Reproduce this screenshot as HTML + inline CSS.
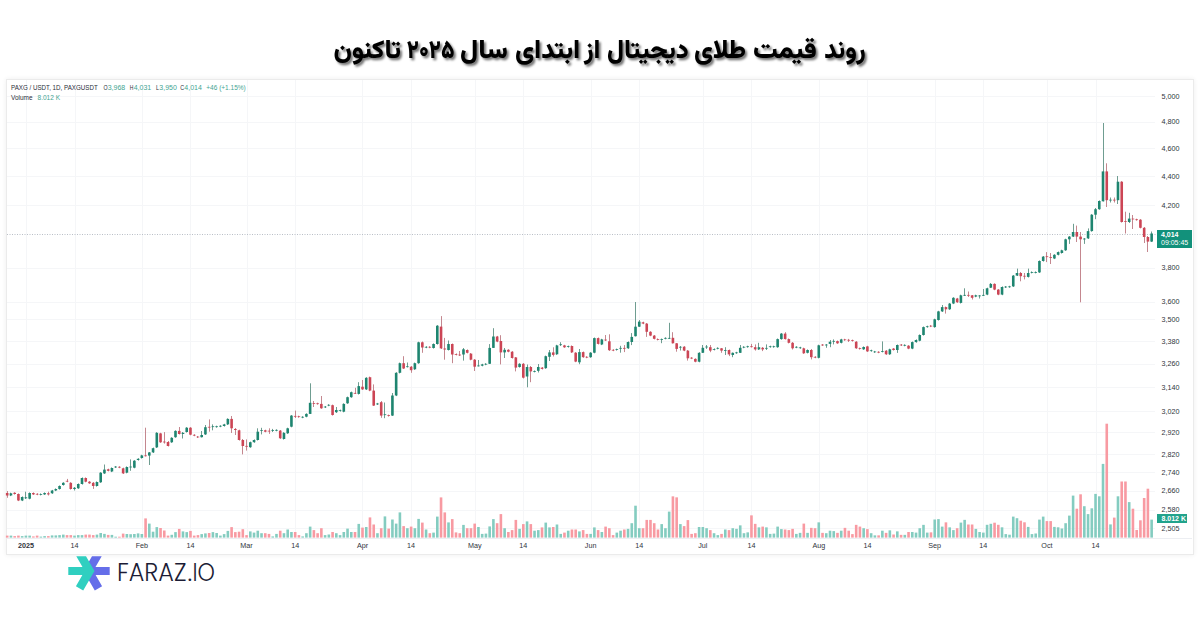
<!DOCTYPE html>
<html lang="fa"><head><meta charset="utf-8"><title>PAXG chart</title>
<style>
html,body{margin:0;padding:0;background:#fff;}
body{width:1200px;height:630px;position:relative;overflow:hidden;font-family:"Liberation Sans",Arial,sans-serif;}

.frame{position:absolute;left:6px;top:79px;width:1186px;height:474px;border:1px solid #ebebeb;box-shadow:0 0 5px rgba(0,0,0,0.07);background:#fff;}
svg.chart{position:absolute;left:0;top:0;}
svg.ttl{position:absolute;left:0;top:0;}
.hdr{position:absolute;left:11px;font-size:7px;color:#131722;white-space:pre;letter-spacing:0;}
.hdr .v{color:#22ab94;}
.tag{position:absolute;background:#12917b;color:#fff;font-size:7px;line-height:8px;}
.logo{position:absolute;left:64px;top:552px;}
.brand{position:absolute;left:110px;top:555px;}
</style></head><body>
<svg class="ttl" width="1200" height="80" viewBox="0 0 1200 80">
<defs><filter id="sh" x="-5%" y="-40%" width="110%" height="180%"><feDropShadow dx="2" dy="2.2" stdDeviation="1" flood-color="#000" flood-opacity="0.55"/></filter></defs>
<g font-family="Vazirmatn, 'Noto Sans Arabic', 'DejaVu Sans', sans-serif" font-weight="900" font-size="25.5" fill="#000" filter="url(#sh)" text-anchor="middle" direction="rtl" lengthAdjust="spacingAndGlyphs">
<text x="845.00" y="58" textLength="41.3" lengthAdjust="spacingAndGlyphs">روند</text>
<text x="784.90" y="58" textLength="63.9" lengthAdjust="spacingAndGlyphs">قیمت</text>
<text x="720.00" y="58" textLength="52.2" lengthAdjust="spacingAndGlyphs">طلای</text>
<text x="647.80" y="58" textLength="81.6" lengthAdjust="spacingAndGlyphs">دیجیتال</text>
<text x="592.25" y="58" textLength="16.1" lengthAdjust="spacingAndGlyphs">از</text>
<text x="547.55" y="58" textLength="65.1" lengthAdjust="spacingAndGlyphs">ابتدای</text>
<text x="483.90" y="58" textLength="47.9" lengthAdjust="spacingAndGlyphs">سال</text>
<text x="430.65" y="58" textLength="47.6" lengthAdjust="spacingAndGlyphs">۲۰۲۵</text>
<text x="367.20" y="58" textLength="67.5" lengthAdjust="spacingAndGlyphs">تاکنون</text>
</g>
</svg>
<div class="frame"></div>
<svg class="chart" width="1200" height="630" viewBox="0 0 1200 630">
<line x1="26.5" y1="80" x2="26.5" y2="538" stroke="#f5f6f8" stroke-width="1"/>
<line x1="75.5" y1="80" x2="75.5" y2="538" stroke="#f5f6f8" stroke-width="1"/>
<line x1="142.5" y1="80" x2="142.5" y2="538" stroke="#f5f6f8" stroke-width="1"/>
<line x1="190.5" y1="80" x2="190.5" y2="538" stroke="#f5f6f8" stroke-width="1"/>
<line x1="247.5" y1="80" x2="247.5" y2="538" stroke="#f5f6f8" stroke-width="1"/>
<line x1="295.5" y1="80" x2="295.5" y2="538" stroke="#f5f6f8" stroke-width="1"/>
<line x1="362.5" y1="80" x2="362.5" y2="538" stroke="#f5f6f8" stroke-width="1"/>
<line x1="411.5" y1="80" x2="411.5" y2="538" stroke="#f5f6f8" stroke-width="1"/>
<line x1="475.5" y1="80" x2="475.5" y2="538" stroke="#f5f6f8" stroke-width="1"/>
<line x1="523.5" y1="80" x2="523.5" y2="538" stroke="#f5f6f8" stroke-width="1"/>
<line x1="591.5" y1="80" x2="591.5" y2="538" stroke="#f5f6f8" stroke-width="1"/>
<line x1="639.5" y1="80" x2="639.5" y2="538" stroke="#f5f6f8" stroke-width="1"/>
<line x1="703.5" y1="80" x2="703.5" y2="538" stroke="#f5f6f8" stroke-width="1"/>
<line x1="751.5" y1="80" x2="751.5" y2="538" stroke="#f5f6f8" stroke-width="1"/>
<line x1="819.5" y1="80" x2="819.5" y2="538" stroke="#f5f6f8" stroke-width="1"/>
<line x1="867.5" y1="80" x2="867.5" y2="538" stroke="#f5f6f8" stroke-width="1"/>
<line x1="935.5" y1="80" x2="935.5" y2="538" stroke="#f5f6f8" stroke-width="1"/>
<line x1="983.5" y1="80" x2="983.5" y2="538" stroke="#f5f6f8" stroke-width="1"/>
<line x1="1047.5" y1="80" x2="1047.5" y2="538" stroke="#f5f6f8" stroke-width="1"/>
<line x1="1096.5" y1="80" x2="1096.5" y2="538" stroke="#f5f6f8" stroke-width="1"/>
<line x1="7" y1="96.5" x2="1155" y2="96.5" stroke="#f5f6f8" stroke-width="1"/>
<line x1="7" y1="122.5" x2="1155" y2="122.5" stroke="#f5f6f8" stroke-width="1"/>
<line x1="7" y1="148.5" x2="1155" y2="148.5" stroke="#f5f6f8" stroke-width="1"/>
<line x1="7" y1="176.5" x2="1155" y2="176.5" stroke="#f5f6f8" stroke-width="1"/>
<line x1="7" y1="205.5" x2="1155" y2="205.5" stroke="#f5f6f8" stroke-width="1"/>
<line x1="7" y1="268.5" x2="1155" y2="268.5" stroke="#f5f6f8" stroke-width="1"/>
<line x1="7" y1="302.5" x2="1155" y2="302.5" stroke="#f5f6f8" stroke-width="1"/>
<line x1="7" y1="319.5" x2="1155" y2="319.5" stroke="#f5f6f8" stroke-width="1"/>
<line x1="7" y1="341.5" x2="1155" y2="341.5" stroke="#f5f6f8" stroke-width="1"/>
<line x1="7" y1="364.5" x2="1155" y2="364.5" stroke="#f5f6f8" stroke-width="1"/>
<line x1="7" y1="387.5" x2="1155" y2="387.5" stroke="#f5f6f8" stroke-width="1"/>
<line x1="7" y1="411.5" x2="1155" y2="411.5" stroke="#f5f6f8" stroke-width="1"/>
<line x1="7" y1="432.5" x2="1155" y2="432.5" stroke="#f5f6f8" stroke-width="1"/>
<line x1="7" y1="454.5" x2="1155" y2="454.5" stroke="#f5f6f8" stroke-width="1"/>
<line x1="7" y1="472.5" x2="1155" y2="472.5" stroke="#f5f6f8" stroke-width="1"/>
<line x1="7" y1="491.5" x2="1155" y2="491.5" stroke="#f5f6f8" stroke-width="1"/>
<line x1="7" y1="510.5" x2="1155" y2="510.5" stroke="#f5f6f8" stroke-width="1"/>
<line x1="7" y1="528.5" x2="1155" y2="528.5" stroke="#f5f6f8" stroke-width="1"/>
<line x1="7" y1="538.5" x2="1192" y2="538.5" stroke="#eceef2" stroke-width="1"/>
<rect x="5.90" y="535.60" width="2.6" height="2.00" fill="#f89aa2"/>
<rect x="9.64" y="535.60" width="2.6" height="2.00" fill="#84ccc0"/>
<rect x="13.38" y="536.10" width="2.6" height="1.50" fill="#f89aa2"/>
<rect x="17.12" y="535.60" width="2.6" height="2.00" fill="#f89aa2"/>
<rect x="20.86" y="536.10" width="2.6" height="1.50" fill="#84ccc0"/>
<rect x="24.60" y="535.60" width="2.6" height="2.00" fill="#84ccc0"/>
<rect x="28.34" y="535.60" width="2.6" height="2.00" fill="#84ccc0"/>
<rect x="32.08" y="536.40" width="2.6" height="1.20" fill="#f89aa2"/>
<rect x="35.82" y="535.60" width="2.6" height="2.00" fill="#f89aa2"/>
<rect x="39.56" y="536.60" width="2.6" height="1.00" fill="#84ccc0"/>
<rect x="43.30" y="536.10" width="2.6" height="1.50" fill="#84ccc0"/>
<rect x="47.04" y="536.10" width="2.6" height="1.50" fill="#f89aa2"/>
<rect x="50.78" y="535.40" width="2.6" height="2.20" fill="#84ccc0"/>
<rect x="54.52" y="535.40" width="2.6" height="2.20" fill="#84ccc0"/>
<rect x="58.26" y="535.10" width="2.6" height="2.50" fill="#84ccc0"/>
<rect x="62.00" y="534.60" width="2.6" height="3.00" fill="#84ccc0"/>
<rect x="65.74" y="535.10" width="2.6" height="2.50" fill="#f89aa2"/>
<rect x="69.48" y="535.10" width="2.6" height="2.50" fill="#f89aa2"/>
<rect x="73.22" y="535.60" width="2.6" height="2.00" fill="#84ccc0"/>
<rect x="76.96" y="535.10" width="2.6" height="2.50" fill="#84ccc0"/>
<rect x="80.70" y="535.10" width="2.6" height="2.50" fill="#84ccc0"/>
<rect x="84.44" y="534.60" width="2.6" height="3.00" fill="#f89aa2"/>
<rect x="88.18" y="534.60" width="2.6" height="3.00" fill="#f89aa2"/>
<rect x="91.92" y="535.10" width="2.6" height="2.50" fill="#f89aa2"/>
<rect x="95.66" y="534.60" width="2.6" height="3.00" fill="#84ccc0"/>
<rect x="99.40" y="533.00" width="2.6" height="4.60" fill="#84ccc0"/>
<rect x="103.14" y="533.90" width="2.6" height="3.70" fill="#84ccc0"/>
<rect x="106.88" y="534.90" width="2.6" height="2.70" fill="#f89aa2"/>
<rect x="110.62" y="534.90" width="2.6" height="2.70" fill="#84ccc0"/>
<rect x="114.36" y="536.70" width="2.6" height="0.90" fill="#84ccc0"/>
<rect x="118.10" y="536.70" width="2.6" height="0.90" fill="#f89aa2"/>
<rect x="121.84" y="533.60" width="2.6" height="4.00" fill="#f89aa2"/>
<rect x="125.58" y="534.00" width="2.6" height="3.60" fill="#84ccc0"/>
<rect x="129.32" y="534.20" width="2.6" height="3.40" fill="#84ccc0"/>
<rect x="133.06" y="534.00" width="2.6" height="3.60" fill="#84ccc0"/>
<rect x="136.80" y="533.40" width="2.6" height="4.20" fill="#84ccc0"/>
<rect x="140.54" y="534.00" width="2.6" height="3.60" fill="#84ccc0"/>
<rect x="144.28" y="518.40" width="2.6" height="19.20" fill="#f89aa2"/>
<rect x="148.02" y="523.60" width="2.6" height="14.00" fill="#84ccc0"/>
<rect x="151.76" y="531.70" width="2.6" height="5.90" fill="#84ccc0"/>
<rect x="155.50" y="527.10" width="2.6" height="10.50" fill="#84ccc0"/>
<rect x="159.24" y="528.00" width="2.6" height="9.60" fill="#f89aa2"/>
<rect x="162.98" y="530.50" width="2.6" height="7.10" fill="#f89aa2"/>
<rect x="166.72" y="535.60" width="2.6" height="2.00" fill="#f89aa2"/>
<rect x="170.46" y="534.80" width="2.6" height="2.80" fill="#84ccc0"/>
<rect x="174.20" y="532.10" width="2.6" height="5.50" fill="#84ccc0"/>
<rect x="177.94" y="528.90" width="2.6" height="8.70" fill="#f89aa2"/>
<rect x="181.68" y="531.40" width="2.6" height="6.20" fill="#84ccc0"/>
<rect x="185.42" y="532.10" width="2.6" height="5.50" fill="#84ccc0"/>
<rect x="189.16" y="530.90" width="2.6" height="6.70" fill="#f89aa2"/>
<rect x="192.90" y="535.60" width="2.6" height="2.00" fill="#f89aa2"/>
<rect x="196.64" y="535.10" width="2.6" height="2.50" fill="#f89aa2"/>
<rect x="200.38" y="534.10" width="2.6" height="3.50" fill="#84ccc0"/>
<rect x="204.12" y="533.40" width="2.6" height="4.20" fill="#84ccc0"/>
<rect x="207.86" y="533.00" width="2.6" height="4.60" fill="#f89aa2"/>
<rect x="211.60" y="532.10" width="2.6" height="5.50" fill="#84ccc0"/>
<rect x="215.34" y="533.00" width="2.6" height="4.60" fill="#84ccc0"/>
<rect x="219.08" y="535.60" width="2.6" height="2.00" fill="#84ccc0"/>
<rect x="222.82" y="534.10" width="2.6" height="3.50" fill="#84ccc0"/>
<rect x="226.56" y="530.90" width="2.6" height="6.70" fill="#84ccc0"/>
<rect x="230.30" y="527.10" width="2.6" height="10.50" fill="#f89aa2"/>
<rect x="234.04" y="532.10" width="2.6" height="5.50" fill="#f89aa2"/>
<rect x="237.78" y="531.70" width="2.6" height="5.90" fill="#f89aa2"/>
<rect x="241.52" y="529.20" width="2.6" height="8.40" fill="#f89aa2"/>
<rect x="245.26" y="535.10" width="2.6" height="2.50" fill="#f89aa2"/>
<rect x="249.00" y="531.40" width="2.6" height="6.20" fill="#84ccc0"/>
<rect x="252.74" y="532.60" width="2.6" height="5.00" fill="#84ccc0"/>
<rect x="256.48" y="530.70" width="2.6" height="6.90" fill="#84ccc0"/>
<rect x="260.22" y="533.20" width="2.6" height="4.40" fill="#84ccc0"/>
<rect x="263.96" y="533.20" width="2.6" height="4.40" fill="#f89aa2"/>
<rect x="267.70" y="533.90" width="2.6" height="3.70" fill="#f89aa2"/>
<rect x="271.44" y="536.40" width="2.6" height="1.20" fill="#84ccc0"/>
<rect x="275.18" y="533.90" width="2.6" height="3.70" fill="#84ccc0"/>
<rect x="278.92" y="530.70" width="2.6" height="6.90" fill="#f89aa2"/>
<rect x="282.66" y="533.20" width="2.6" height="4.40" fill="#84ccc0"/>
<rect x="286.40" y="529.50" width="2.6" height="8.10" fill="#84ccc0"/>
<rect x="290.14" y="532.00" width="2.6" height="5.60" fill="#84ccc0"/>
<rect x="293.88" y="532.00" width="2.6" height="5.60" fill="#f89aa2"/>
<rect x="297.62" y="535.10" width="2.6" height="2.50" fill="#f89aa2"/>
<rect x="301.36" y="536.40" width="2.6" height="1.20" fill="#84ccc0"/>
<rect x="305.10" y="533.20" width="2.6" height="4.40" fill="#84ccc0"/>
<rect x="308.84" y="526.60" width="2.6" height="11.00" fill="#84ccc0"/>
<rect x="312.58" y="530.10" width="2.6" height="7.50" fill="#f89aa2"/>
<rect x="316.32" y="533.20" width="2.6" height="4.40" fill="#f89aa2"/>
<rect x="320.06" y="528.20" width="2.6" height="9.40" fill="#f89aa2"/>
<rect x="323.80" y="535.10" width="2.6" height="2.50" fill="#84ccc0"/>
<rect x="327.54" y="534.50" width="2.6" height="3.10" fill="#84ccc0"/>
<rect x="331.28" y="532.00" width="2.6" height="5.60" fill="#f89aa2"/>
<rect x="335.02" y="533.20" width="2.6" height="4.40" fill="#84ccc0"/>
<rect x="338.76" y="535.10" width="2.6" height="2.50" fill="#84ccc0"/>
<rect x="342.50" y="532.00" width="2.6" height="5.60" fill="#84ccc0"/>
<rect x="346.24" y="528.60" width="2.6" height="9.00" fill="#84ccc0"/>
<rect x="349.98" y="532.00" width="2.6" height="5.60" fill="#84ccc0"/>
<rect x="353.72" y="532.00" width="2.6" height="5.60" fill="#f89aa2"/>
<rect x="357.46" y="523.90" width="2.6" height="13.70" fill="#84ccc0"/>
<rect x="361.20" y="527.60" width="2.6" height="10.00" fill="#f89aa2"/>
<rect x="364.94" y="527.00" width="2.6" height="10.60" fill="#84ccc0"/>
<rect x="368.68" y="517.40" width="2.6" height="20.20" fill="#f89aa2"/>
<rect x="372.42" y="524.50" width="2.6" height="13.10" fill="#f89aa2"/>
<rect x="376.16" y="533.20" width="2.6" height="4.40" fill="#84ccc0"/>
<rect x="379.90" y="528.20" width="2.6" height="9.40" fill="#f89aa2"/>
<rect x="383.64" y="516.40" width="2.6" height="21.20" fill="#84ccc0"/>
<rect x="387.38" y="528.60" width="2.6" height="9.00" fill="#f89aa2"/>
<rect x="391.12" y="519.50" width="2.6" height="18.10" fill="#84ccc0"/>
<rect x="394.86" y="523.60" width="2.6" height="14.00" fill="#84ccc0"/>
<rect x="398.60" y="512.40" width="2.6" height="25.20" fill="#84ccc0"/>
<rect x="402.34" y="526.10" width="2.6" height="11.50" fill="#f89aa2"/>
<rect x="406.08" y="528.20" width="2.6" height="9.40" fill="#84ccc0"/>
<rect x="409.82" y="526.60" width="2.6" height="11.00" fill="#f89aa2"/>
<rect x="413.56" y="528.20" width="2.6" height="9.40" fill="#84ccc0"/>
<rect x="417.30" y="518.90" width="2.6" height="18.70" fill="#84ccc0"/>
<rect x="421.04" y="522.60" width="2.6" height="15.00" fill="#f89aa2"/>
<rect x="424.78" y="529.50" width="2.6" height="8.10" fill="#84ccc0"/>
<rect x="428.52" y="533.20" width="2.6" height="4.40" fill="#f89aa2"/>
<rect x="432.26" y="532.60" width="2.6" height="5.00" fill="#84ccc0"/>
<rect x="436.00" y="516.60" width="2.6" height="21.00" fill="#84ccc0"/>
<rect x="439.74" y="497.40" width="2.6" height="40.20" fill="#f89aa2"/>
<rect x="443.48" y="512.40" width="2.6" height="25.20" fill="#f89aa2"/>
<rect x="447.22" y="522.40" width="2.6" height="15.20" fill="#84ccc0"/>
<rect x="450.96" y="519.10" width="2.6" height="18.50" fill="#f89aa2"/>
<rect x="454.70" y="532.40" width="2.6" height="5.20" fill="#f89aa2"/>
<rect x="458.44" y="533.20" width="2.6" height="4.40" fill="#f89aa2"/>
<rect x="462.18" y="524.90" width="2.6" height="12.70" fill="#84ccc0"/>
<rect x="465.92" y="528.20" width="2.6" height="9.40" fill="#f89aa2"/>
<rect x="469.66" y="528.20" width="2.6" height="9.40" fill="#f89aa2"/>
<rect x="473.40" y="523.60" width="2.6" height="14.00" fill="#f89aa2"/>
<rect x="477.14" y="527.00" width="2.6" height="10.60" fill="#84ccc0"/>
<rect x="480.88" y="533.90" width="2.6" height="3.70" fill="#84ccc0"/>
<rect x="484.62" y="533.60" width="2.6" height="4.00" fill="#84ccc0"/>
<rect x="488.36" y="526.40" width="2.6" height="11.20" fill="#84ccc0"/>
<rect x="492.10" y="519.10" width="2.6" height="18.50" fill="#84ccc0"/>
<rect x="495.84" y="523.20" width="2.6" height="14.40" fill="#f89aa2"/>
<rect x="499.58" y="514.10" width="2.6" height="23.50" fill="#f89aa2"/>
<rect x="503.32" y="528.20" width="2.6" height="9.40" fill="#84ccc0"/>
<rect x="507.06" y="532.00" width="2.6" height="5.60" fill="#f89aa2"/>
<rect x="510.80" y="530.10" width="2.6" height="7.50" fill="#f89aa2"/>
<rect x="514.54" y="519.90" width="2.6" height="17.70" fill="#f89aa2"/>
<rect x="518.28" y="528.85" width="2.6" height="8.75" fill="#84ccc0"/>
<rect x="522.02" y="524.10" width="2.6" height="13.50" fill="#f89aa2"/>
<rect x="525.76" y="521.40" width="2.6" height="16.20" fill="#84ccc0"/>
<rect x="529.50" y="524.10" width="2.6" height="13.50" fill="#f89aa2"/>
<rect x="533.24" y="530.70" width="2.6" height="6.90" fill="#84ccc0"/>
<rect x="536.98" y="530.10" width="2.6" height="7.50" fill="#84ccc0"/>
<rect x="540.72" y="527.40" width="2.6" height="10.20" fill="#f89aa2"/>
<rect x="544.46" y="522.60" width="2.6" height="15.00" fill="#84ccc0"/>
<rect x="548.20" y="527.40" width="2.6" height="10.20" fill="#84ccc0"/>
<rect x="551.94" y="527.00" width="2.6" height="10.60" fill="#f89aa2"/>
<rect x="555.68" y="524.50" width="2.6" height="13.10" fill="#84ccc0"/>
<rect x="559.42" y="533.90" width="2.6" height="3.70" fill="#84ccc0"/>
<rect x="563.16" y="532.60" width="2.6" height="5.00" fill="#f89aa2"/>
<rect x="566.90" y="530.70" width="2.6" height="6.90" fill="#84ccc0"/>
<rect x="570.64" y="529.50" width="2.6" height="8.10" fill="#f89aa2"/>
<rect x="574.38" y="529.50" width="2.6" height="8.10" fill="#f89aa2"/>
<rect x="578.12" y="531.40" width="2.6" height="6.20" fill="#84ccc0"/>
<rect x="581.86" y="530.10" width="2.6" height="7.50" fill="#f89aa2"/>
<rect x="585.60" y="533.90" width="2.6" height="3.70" fill="#f89aa2"/>
<rect x="589.34" y="533.90" width="2.6" height="3.70" fill="#84ccc0"/>
<rect x="593.08" y="527.40" width="2.6" height="10.20" fill="#84ccc0"/>
<rect x="596.82" y="530.10" width="2.6" height="7.50" fill="#f89aa2"/>
<rect x="600.56" y="532.00" width="2.6" height="5.60" fill="#84ccc0"/>
<rect x="604.30" y="526.60" width="2.6" height="11.00" fill="#f89aa2"/>
<rect x="608.04" y="528.20" width="2.6" height="9.40" fill="#f89aa2"/>
<rect x="611.78" y="535.10" width="2.6" height="2.50" fill="#f89aa2"/>
<rect x="615.52" y="532.60" width="2.6" height="5.00" fill="#84ccc0"/>
<rect x="619.26" y="530.70" width="2.6" height="6.90" fill="#84ccc0"/>
<rect x="623.00" y="529.50" width="2.6" height="8.10" fill="#f89aa2"/>
<rect x="626.74" y="528.85" width="2.6" height="8.75" fill="#84ccc0"/>
<rect x="630.48" y="523.20" width="2.6" height="14.40" fill="#84ccc0"/>
<rect x="634.22" y="505.70" width="2.6" height="31.90" fill="#84ccc0"/>
<rect x="637.96" y="528.20" width="2.6" height="9.40" fill="#84ccc0"/>
<rect x="641.70" y="528.20" width="2.6" height="9.40" fill="#f89aa2"/>
<rect x="645.44" y="519.90" width="2.6" height="17.70" fill="#f89aa2"/>
<rect x="649.18" y="519.90" width="2.6" height="17.70" fill="#f89aa2"/>
<rect x="652.92" y="523.20" width="2.6" height="14.40" fill="#f89aa2"/>
<rect x="656.66" y="529.50" width="2.6" height="8.10" fill="#f89aa2"/>
<rect x="660.40" y="524.10" width="2.6" height="13.50" fill="#84ccc0"/>
<rect x="664.14" y="528.20" width="2.6" height="9.40" fill="#84ccc0"/>
<rect x="667.88" y="511.60" width="2.6" height="26.00" fill="#84ccc0"/>
<rect x="671.62" y="496.35" width="2.6" height="41.25" fill="#f89aa2"/>
<rect x="675.36" y="497.35" width="2.6" height="40.25" fill="#f89aa2"/>
<rect x="679.10" y="524.10" width="2.6" height="13.50" fill="#84ccc0"/>
<rect x="682.84" y="526.10" width="2.6" height="11.50" fill="#f89aa2"/>
<rect x="686.58" y="520.10" width="2.6" height="17.50" fill="#f89aa2"/>
<rect x="690.32" y="533.90" width="2.6" height="3.70" fill="#f89aa2"/>
<rect x="694.06" y="533.20" width="2.6" height="4.40" fill="#f89aa2"/>
<rect x="697.80" y="527.00" width="2.6" height="10.60" fill="#84ccc0"/>
<rect x="701.54" y="527.00" width="2.6" height="10.60" fill="#84ccc0"/>
<rect x="705.28" y="528.20" width="2.6" height="9.40" fill="#84ccc0"/>
<rect x="709.02" y="530.10" width="2.6" height="7.50" fill="#f89aa2"/>
<rect x="712.76" y="533.20" width="2.6" height="4.40" fill="#84ccc0"/>
<rect x="716.50" y="535.10" width="2.6" height="2.50" fill="#84ccc0"/>
<rect x="720.24" y="533.90" width="2.6" height="3.70" fill="#f89aa2"/>
<rect x="723.98" y="529.50" width="2.6" height="8.10" fill="#84ccc0"/>
<rect x="727.72" y="530.10" width="2.6" height="7.50" fill="#f89aa2"/>
<rect x="731.46" y="528.20" width="2.6" height="9.40" fill="#84ccc0"/>
<rect x="735.20" y="528.85" width="2.6" height="8.75" fill="#84ccc0"/>
<rect x="738.94" y="525.35" width="2.6" height="12.25" fill="#84ccc0"/>
<rect x="742.68" y="533.20" width="2.6" height="4.40" fill="#84ccc0"/>
<rect x="746.42" y="532.35" width="2.6" height="5.25" fill="#84ccc0"/>
<rect x="750.16" y="515.35" width="2.6" height="22.25" fill="#f89aa2"/>
<rect x="753.90" y="523.85" width="2.6" height="13.75" fill="#f89aa2"/>
<rect x="757.64" y="527.35" width="2.6" height="10.25" fill="#84ccc0"/>
<rect x="761.38" y="526.60" width="2.6" height="11.00" fill="#f89aa2"/>
<rect x="765.12" y="527.35" width="2.6" height="10.25" fill="#84ccc0"/>
<rect x="768.86" y="533.90" width="2.6" height="3.70" fill="#84ccc0"/>
<rect x="772.60" y="533.60" width="2.6" height="4.00" fill="#84ccc0"/>
<rect x="776.34" y="526.60" width="2.6" height="11.00" fill="#84ccc0"/>
<rect x="780.08" y="529.10" width="2.6" height="8.50" fill="#84ccc0"/>
<rect x="783.82" y="529.50" width="2.6" height="8.10" fill="#f89aa2"/>
<rect x="787.56" y="530.10" width="2.6" height="7.50" fill="#f89aa2"/>
<rect x="791.30" y="528.85" width="2.6" height="8.75" fill="#f89aa2"/>
<rect x="795.04" y="533.90" width="2.6" height="3.70" fill="#84ccc0"/>
<rect x="798.78" y="532.85" width="2.6" height="4.75" fill="#84ccc0"/>
<rect x="802.52" y="523.60" width="2.6" height="14.00" fill="#f89aa2"/>
<rect x="806.26" y="532.85" width="2.6" height="4.75" fill="#84ccc0"/>
<rect x="810.00" y="527.85" width="2.6" height="9.75" fill="#f89aa2"/>
<rect x="813.74" y="528.20" width="2.6" height="9.40" fill="#f89aa2"/>
<rect x="817.48" y="522.35" width="2.6" height="15.25" fill="#84ccc0"/>
<rect x="821.22" y="532.85" width="2.6" height="4.75" fill="#f89aa2"/>
<rect x="824.96" y="533.20" width="2.6" height="4.40" fill="#84ccc0"/>
<rect x="828.70" y="530.70" width="2.6" height="6.90" fill="#84ccc0"/>
<rect x="832.44" y="531.10" width="2.6" height="6.50" fill="#84ccc0"/>
<rect x="836.18" y="532.85" width="2.6" height="4.75" fill="#f89aa2"/>
<rect x="839.92" y="530.70" width="2.6" height="6.90" fill="#84ccc0"/>
<rect x="843.66" y="527.85" width="2.6" height="9.75" fill="#f89aa2"/>
<rect x="847.40" y="530.70" width="2.6" height="6.90" fill="#f89aa2"/>
<rect x="851.14" y="534.10" width="2.6" height="3.50" fill="#f89aa2"/>
<rect x="854.88" y="524.85" width="2.6" height="12.75" fill="#f89aa2"/>
<rect x="858.62" y="526.60" width="2.6" height="11.00" fill="#f89aa2"/>
<rect x="862.36" y="528.20" width="2.6" height="9.40" fill="#84ccc0"/>
<rect x="866.10" y="529.10" width="2.6" height="8.50" fill="#f89aa2"/>
<rect x="869.84" y="533.20" width="2.6" height="4.40" fill="#84ccc0"/>
<rect x="873.58" y="535.35" width="2.6" height="2.25" fill="#84ccc0"/>
<rect x="877.32" y="535.35" width="2.6" height="2.25" fill="#f89aa2"/>
<rect x="881.06" y="530.70" width="2.6" height="6.90" fill="#84ccc0"/>
<rect x="884.80" y="532.85" width="2.6" height="4.75" fill="#f89aa2"/>
<rect x="888.54" y="530.35" width="2.6" height="7.25" fill="#84ccc0"/>
<rect x="892.28" y="534.50" width="2.6" height="3.10" fill="#f89aa2"/>
<rect x="896.02" y="531.35" width="2.6" height="6.25" fill="#84ccc0"/>
<rect x="899.76" y="534.85" width="2.6" height="2.75" fill="#f89aa2"/>
<rect x="903.50" y="534.85" width="2.6" height="2.75" fill="#84ccc0"/>
<rect x="907.24" y="532.00" width="2.6" height="5.60" fill="#f89aa2"/>
<rect x="910.98" y="532.00" width="2.6" height="5.60" fill="#84ccc0"/>
<rect x="914.72" y="532.60" width="2.6" height="5.00" fill="#84ccc0"/>
<rect x="918.46" y="528.20" width="2.6" height="9.40" fill="#84ccc0"/>
<rect x="922.20" y="524.85" width="2.6" height="12.75" fill="#84ccc0"/>
<rect x="925.94" y="532.60" width="2.6" height="5.00" fill="#84ccc0"/>
<rect x="929.68" y="532.35" width="2.6" height="5.25" fill="#f89aa2"/>
<rect x="933.42" y="519.50" width="2.6" height="18.10" fill="#84ccc0"/>
<rect x="937.16" y="519.10" width="2.6" height="18.50" fill="#84ccc0"/>
<rect x="940.90" y="526.60" width="2.6" height="11.00" fill="#84ccc0"/>
<rect x="944.64" y="522.35" width="2.6" height="15.25" fill="#f89aa2"/>
<rect x="948.38" y="527.35" width="2.6" height="10.25" fill="#84ccc0"/>
<rect x="952.12" y="530.10" width="2.6" height="7.50" fill="#84ccc0"/>
<rect x="955.86" y="528.20" width="2.6" height="9.40" fill="#f89aa2"/>
<rect x="959.60" y="522.60" width="2.6" height="15.00" fill="#84ccc0"/>
<rect x="963.34" y="519.85" width="2.6" height="17.75" fill="#84ccc0"/>
<rect x="967.08" y="524.50" width="2.6" height="13.10" fill="#f89aa2"/>
<rect x="970.82" y="524.50" width="2.6" height="13.10" fill="#f89aa2"/>
<rect x="974.56" y="528.90" width="2.6" height="8.70" fill="#84ccc0"/>
<rect x="978.30" y="532.00" width="2.6" height="5.60" fill="#84ccc0"/>
<rect x="982.04" y="532.60" width="2.6" height="5.00" fill="#84ccc0"/>
<rect x="985.78" y="524.80" width="2.6" height="12.80" fill="#84ccc0"/>
<rect x="989.52" y="523.80" width="2.6" height="13.80" fill="#84ccc0"/>
<rect x="993.26" y="522.70" width="2.6" height="14.90" fill="#f89aa2"/>
<rect x="997.00" y="524.80" width="2.6" height="12.80" fill="#f89aa2"/>
<rect x="1000.74" y="527.30" width="2.6" height="10.30" fill="#84ccc0"/>
<rect x="1004.48" y="534.10" width="2.6" height="3.50" fill="#84ccc0"/>
<rect x="1008.22" y="534.70" width="2.6" height="2.90" fill="#84ccc0"/>
<rect x="1011.96" y="516.60" width="2.6" height="21.00" fill="#84ccc0"/>
<rect x="1015.70" y="518.20" width="2.6" height="19.40" fill="#84ccc0"/>
<rect x="1019.44" y="520.70" width="2.6" height="16.90" fill="#f89aa2"/>
<rect x="1023.18" y="522.30" width="2.6" height="15.30" fill="#f89aa2"/>
<rect x="1026.92" y="526.90" width="2.6" height="10.70" fill="#84ccc0"/>
<rect x="1030.66" y="534.10" width="2.6" height="3.50" fill="#84ccc0"/>
<rect x="1034.40" y="533.50" width="2.6" height="4.10" fill="#84ccc0"/>
<rect x="1038.14" y="519.60" width="2.6" height="18.00" fill="#84ccc0"/>
<rect x="1041.88" y="516.60" width="2.6" height="21.00" fill="#84ccc0"/>
<rect x="1045.62" y="521.10" width="2.6" height="16.50" fill="#f89aa2"/>
<rect x="1049.36" y="521.10" width="2.6" height="16.50" fill="#f89aa2"/>
<rect x="1053.10" y="526.90" width="2.6" height="10.70" fill="#84ccc0"/>
<rect x="1056.84" y="527.30" width="2.6" height="10.30" fill="#84ccc0"/>
<rect x="1060.58" y="528.50" width="2.6" height="9.10" fill="#84ccc0"/>
<rect x="1064.32" y="523.20" width="2.6" height="14.40" fill="#84ccc0"/>
<rect x="1068.06" y="515.60" width="2.6" height="22.00" fill="#84ccc0"/>
<rect x="1071.80" y="495.60" width="2.6" height="42.00" fill="#84ccc0"/>
<rect x="1075.54" y="508.70" width="2.6" height="28.90" fill="#f89aa2"/>
<rect x="1079.28" y="494.30" width="2.6" height="43.30" fill="#f89aa2"/>
<rect x="1083.02" y="506.20" width="2.6" height="31.40" fill="#84ccc0"/>
<rect x="1086.76" y="514.10" width="2.6" height="23.50" fill="#84ccc0"/>
<rect x="1090.50" y="508.30" width="2.6" height="29.30" fill="#84ccc0"/>
<rect x="1094.24" y="493.90" width="2.6" height="43.70" fill="#84ccc0"/>
<rect x="1097.98" y="496.30" width="2.6" height="41.30" fill="#84ccc0"/>
<rect x="1101.72" y="463.90" width="2.6" height="73.70" fill="#84ccc0"/>
<rect x="1105.46" y="423.70" width="2.6" height="113.90" fill="#f89aa2"/>
<rect x="1109.20" y="524.40" width="2.6" height="13.20" fill="#84ccc0"/>
<rect x="1112.94" y="517.60" width="2.6" height="20.00" fill="#f89aa2"/>
<rect x="1116.68" y="496.30" width="2.6" height="41.30" fill="#84ccc0"/>
<rect x="1120.42" y="481.50" width="2.6" height="56.10" fill="#f89aa2"/>
<rect x="1124.16" y="481.50" width="2.6" height="56.10" fill="#f89aa2"/>
<rect x="1127.90" y="502.10" width="2.6" height="35.50" fill="#84ccc0"/>
<rect x="1131.64" y="508.70" width="2.6" height="28.90" fill="#f89aa2"/>
<rect x="1135.38" y="530.00" width="2.6" height="7.60" fill="#f89aa2"/>
<rect x="1139.12" y="520.30" width="2.6" height="17.30" fill="#f89aa2"/>
<rect x="1142.86" y="498.00" width="2.6" height="39.60" fill="#f89aa2"/>
<rect x="1146.60" y="488.70" width="2.6" height="48.90" fill="#f89aa2"/>
<rect x="1150.34" y="519.60" width="2.6" height="18.00" fill="#84ccc0"/>
<line x1="7" y1="234.5" x2="1157" y2="234.5" stroke="#b9bec6" stroke-width="1" stroke-dasharray="1 1.5"/>
<line x1="7.50" y1="491.00" x2="7.50" y2="497.80" stroke="#c4878f" stroke-width="1"/>
<rect x="5.90" y="493.00" width="2.6" height="2.50" fill="#cc4555"/>
<line x1="10.50" y1="492.70" x2="10.50" y2="496.10" stroke="#6f9d91" stroke-width="1"/>
<rect x="9.64" y="493.30" width="2.6" height="2.20" fill="#1e8570"/>
<line x1="14.50" y1="492.20" x2="14.50" y2="494.60" stroke="#c4878f" stroke-width="1"/>
<rect x="13.38" y="492.80" width="2.6" height="1.20" fill="#cc4555"/>
<line x1="18.50" y1="493.40" x2="18.50" y2="501.10" stroke="#c4878f" stroke-width="1"/>
<rect x="17.12" y="494.00" width="2.6" height="6.50" fill="#cc4555"/>
<line x1="22.50" y1="496.40" x2="22.50" y2="501.10" stroke="#6f9d91" stroke-width="1"/>
<rect x="20.86" y="497.00" width="2.6" height="3.50" fill="#1e8570"/>
<line x1="25.50" y1="491.70" x2="25.50" y2="499.00" stroke="#6f9d91" stroke-width="1"/>
<rect x="24.60" y="497.30" width="2.6" height="1.00" fill="#1e8570"/>
<line x1="29.50" y1="492.40" x2="29.50" y2="499.30" stroke="#6f9d91" stroke-width="1"/>
<rect x="28.34" y="493.00" width="2.6" height="5.70" fill="#1e8570"/>
<line x1="33.50" y1="492.40" x2="33.50" y2="495.00" stroke="#c4878f" stroke-width="1"/>
<rect x="32.08" y="493.00" width="2.6" height="1.40" fill="#cc4555"/>
<line x1="37.50" y1="493.20" x2="37.50" y2="495.20" stroke="#c4878f" stroke-width="1"/>
<rect x="35.82" y="493.80" width="2.6" height="0.80" fill="#cc4555"/>
<line x1="40.50" y1="493.40" x2="40.50" y2="495.40" stroke="#6f9d91" stroke-width="1"/>
<rect x="39.56" y="494.00" width="2.6" height="0.80" fill="#1e8570"/>
<line x1="44.50" y1="492.40" x2="44.50" y2="495.00" stroke="#6f9d91" stroke-width="1"/>
<rect x="43.30" y="493.00" width="2.6" height="1.40" fill="#1e8570"/>
<line x1="48.50" y1="491.70" x2="48.50" y2="495.50" stroke="#c4878f" stroke-width="1"/>
<rect x="47.04" y="493.30" width="2.6" height="1.10" fill="#cc4555"/>
<line x1="52.50" y1="489.90" x2="52.50" y2="493.90" stroke="#6f9d91" stroke-width="1"/>
<rect x="50.78" y="490.50" width="2.6" height="2.80" fill="#1e8570"/>
<line x1="55.50" y1="488.40" x2="55.50" y2="491.10" stroke="#6f9d91" stroke-width="1"/>
<rect x="54.52" y="489.00" width="2.6" height="1.50" fill="#1e8570"/>
<line x1="59.50" y1="485.40" x2="59.50" y2="489.60" stroke="#6f9d91" stroke-width="1"/>
<rect x="58.26" y="486.00" width="2.6" height="3.00" fill="#1e8570"/>
<line x1="63.50" y1="482.20" x2="63.50" y2="485.60" stroke="#6f9d91" stroke-width="1"/>
<rect x="62.00" y="482.80" width="2.6" height="2.20" fill="#1e8570"/>
<line x1="67.50" y1="478.90" x2="67.50" y2="482.20" stroke="#c4878f" stroke-width="1"/>
<rect x="65.74" y="480.80" width="2.6" height="0.80" fill="#cc4555"/>
<line x1="70.50" y1="482.20" x2="70.50" y2="489.60" stroke="#c4878f" stroke-width="1"/>
<rect x="69.48" y="482.80" width="2.6" height="6.20" fill="#cc4555"/>
<line x1="74.50" y1="487.00" x2="74.50" y2="490.50" stroke="#6f9d91" stroke-width="1"/>
<rect x="73.22" y="487.80" width="2.6" height="1.20" fill="#1e8570"/>
<line x1="78.50" y1="483.40" x2="78.50" y2="488.90" stroke="#6f9d91" stroke-width="1"/>
<rect x="76.96" y="484.00" width="2.6" height="4.30" fill="#1e8570"/>
<line x1="82.50" y1="477.40" x2="82.50" y2="484.60" stroke="#6f9d91" stroke-width="1"/>
<rect x="80.70" y="478.00" width="2.6" height="6.00" fill="#1e8570"/>
<line x1="85.50" y1="477.40" x2="85.50" y2="482.30" stroke="#c4878f" stroke-width="1"/>
<rect x="84.44" y="478.00" width="2.6" height="3.70" fill="#cc4555"/>
<line x1="89.50" y1="481.10" x2="89.50" y2="483.90" stroke="#c4878f" stroke-width="1"/>
<rect x="88.18" y="481.70" width="2.6" height="1.60" fill="#cc4555"/>
<line x1="93.50" y1="482.00" x2="93.50" y2="488.90" stroke="#c4878f" stroke-width="1"/>
<rect x="91.92" y="482.80" width="2.6" height="3.20" fill="#cc4555"/>
<line x1="96.50" y1="481.40" x2="96.50" y2="486.60" stroke="#6f9d91" stroke-width="1"/>
<rect x="95.66" y="482.00" width="2.6" height="4.00" fill="#1e8570"/>
<line x1="100.50" y1="472.10" x2="100.50" y2="482.90" stroke="#6f9d91" stroke-width="1"/>
<rect x="99.40" y="472.70" width="2.6" height="9.60" fill="#1e8570"/>
<line x1="104.50" y1="464.50" x2="104.50" y2="474.00" stroke="#6f9d91" stroke-width="1"/>
<rect x="103.14" y="469.60" width="2.6" height="3.80" fill="#1e8570"/>
<line x1="108.50" y1="468.70" x2="108.50" y2="471.40" stroke="#c4878f" stroke-width="1"/>
<rect x="106.88" y="469.30" width="2.6" height="1.50" fill="#cc4555"/>
<line x1="111.50" y1="467.40" x2="111.50" y2="472.10" stroke="#6f9d91" stroke-width="1"/>
<rect x="110.62" y="468.00" width="2.6" height="3.50" fill="#1e8570"/>
<line x1="115.50" y1="466.00" x2="115.50" y2="468.00" stroke="#6f9d91" stroke-width="1"/>
<rect x="114.36" y="466.60" width="2.6" height="0.80" fill="#1e8570"/>
<line x1="119.50" y1="466.20" x2="119.50" y2="468.20" stroke="#c4878f" stroke-width="1"/>
<rect x="118.10" y="466.80" width="2.6" height="0.80" fill="#cc4555"/>
<line x1="123.50" y1="467.70" x2="123.50" y2="474.00" stroke="#c4878f" stroke-width="1"/>
<rect x="121.84" y="468.30" width="2.6" height="5.10" fill="#cc4555"/>
<line x1="126.50" y1="466.40" x2="126.50" y2="473.30" stroke="#6f9d91" stroke-width="1"/>
<rect x="125.58" y="467.00" width="2.6" height="5.70" fill="#1e8570"/>
<line x1="130.50" y1="459.40" x2="130.50" y2="470.80" stroke="#6f9d91" stroke-width="1"/>
<rect x="129.32" y="466.60" width="2.6" height="0.80" fill="#1e8570"/>
<line x1="134.50" y1="460.10" x2="134.50" y2="468.30" stroke="#6f9d91" stroke-width="1"/>
<rect x="133.06" y="460.70" width="2.6" height="7.00" fill="#1e8570"/>
<line x1="138.50" y1="458.20" x2="138.50" y2="460.60" stroke="#6f9d91" stroke-width="1"/>
<rect x="136.80" y="458.80" width="2.6" height="1.20" fill="#1e8570"/>
<line x1="141.50" y1="454.80" x2="141.50" y2="458.60" stroke="#6f9d91" stroke-width="1"/>
<rect x="140.54" y="455.40" width="2.6" height="2.60" fill="#1e8570"/>
<line x1="145.50" y1="427.70" x2="145.50" y2="456.50" stroke="#c4878f" stroke-width="1"/>
<rect x="144.28" y="455.40" width="2.6" height="0.80" fill="#cc4555"/>
<line x1="149.50" y1="452.00" x2="149.50" y2="465.00" stroke="#6f9d91" stroke-width="1"/>
<rect x="148.02" y="452.40" width="2.6" height="3.20" fill="#1e8570"/>
<line x1="153.50" y1="447.60" x2="153.50" y2="453.00" stroke="#6f9d91" stroke-width="1"/>
<rect x="151.76" y="448.20" width="2.6" height="4.20" fill="#1e8570"/>
<line x1="156.50" y1="432.20" x2="156.50" y2="448.00" stroke="#6f9d91" stroke-width="1"/>
<rect x="155.50" y="432.80" width="2.6" height="14.60" fill="#1e8570"/>
<line x1="160.50" y1="432.80" x2="160.50" y2="442.90" stroke="#c4878f" stroke-width="1"/>
<rect x="159.24" y="433.40" width="2.6" height="8.90" fill="#cc4555"/>
<line x1="164.50" y1="432.10" x2="164.50" y2="443.60" stroke="#c4878f" stroke-width="1"/>
<rect x="162.98" y="441.60" width="2.6" height="0.80" fill="#cc4555"/>
<line x1="168.50" y1="441.00" x2="168.50" y2="446.50" stroke="#c4878f" stroke-width="1"/>
<rect x="166.72" y="442.00" width="2.6" height="4.00" fill="#cc4555"/>
<line x1="171.50" y1="437.20" x2="171.50" y2="442.90" stroke="#6f9d91" stroke-width="1"/>
<rect x="170.46" y="437.80" width="2.6" height="4.50" fill="#1e8570"/>
<line x1="175.50" y1="430.30" x2="175.50" y2="437.80" stroke="#6f9d91" stroke-width="1"/>
<rect x="174.20" y="430.90" width="2.6" height="6.30" fill="#1e8570"/>
<line x1="179.50" y1="427.00" x2="179.50" y2="434.50" stroke="#c4878f" stroke-width="1"/>
<rect x="177.94" y="430.90" width="2.6" height="3.10" fill="#cc4555"/>
<line x1="182.50" y1="432.00" x2="182.50" y2="438.50" stroke="#6f9d91" stroke-width="1"/>
<rect x="181.68" y="432.80" width="2.6" height="1.20" fill="#1e8570"/>
<line x1="186.50" y1="427.10" x2="186.50" y2="432.60" stroke="#6f9d91" stroke-width="1"/>
<rect x="185.42" y="427.70" width="2.6" height="4.30" fill="#1e8570"/>
<line x1="190.50" y1="427.10" x2="190.50" y2="435.30" stroke="#c4878f" stroke-width="1"/>
<rect x="189.16" y="427.70" width="2.6" height="7.00" fill="#cc4555"/>
<line x1="194.50" y1="434.20" x2="194.50" y2="436.20" stroke="#c4878f" stroke-width="1"/>
<rect x="192.90" y="434.80" width="2.6" height="0.80" fill="#cc4555"/>
<line x1="197.50" y1="436.00" x2="197.50" y2="438.00" stroke="#c4878f" stroke-width="1"/>
<rect x="196.64" y="436.60" width="2.6" height="0.80" fill="#cc4555"/>
<line x1="201.50" y1="431.00" x2="201.50" y2="437.50" stroke="#6f9d91" stroke-width="1"/>
<rect x="200.38" y="435.00" width="2.6" height="2.20" fill="#1e8570"/>
<line x1="205.50" y1="425.00" x2="205.50" y2="435.00" stroke="#6f9d91" stroke-width="1"/>
<rect x="204.12" y="427.20" width="2.6" height="7.20" fill="#1e8570"/>
<line x1="209.50" y1="419.40" x2="209.50" y2="431.70" stroke="#c4878f" stroke-width="1"/>
<rect x="207.86" y="426.80" width="2.6" height="0.80" fill="#cc4555"/>
<line x1="212.50" y1="424.40" x2="212.50" y2="430.30" stroke="#6f9d91" stroke-width="1"/>
<rect x="211.60" y="426.30" width="2.6" height="0.80" fill="#1e8570"/>
<line x1="216.50" y1="425.70" x2="216.50" y2="427.70" stroke="#6f9d91" stroke-width="1"/>
<rect x="215.34" y="426.30" width="2.6" height="0.80" fill="#1e8570"/>
<line x1="220.50" y1="425.20" x2="220.50" y2="427.20" stroke="#6f9d91" stroke-width="1"/>
<rect x="219.08" y="425.80" width="2.6" height="0.80" fill="#1e8570"/>
<line x1="224.50" y1="423.80" x2="224.50" y2="426.60" stroke="#6f9d91" stroke-width="1"/>
<rect x="222.82" y="424.40" width="2.6" height="1.60" fill="#1e8570"/>
<line x1="227.50" y1="418.30" x2="227.50" y2="425.00" stroke="#6f9d91" stroke-width="1"/>
<rect x="226.56" y="418.90" width="2.6" height="5.50" fill="#1e8570"/>
<line x1="231.50" y1="416.00" x2="231.50" y2="433.00" stroke="#c4878f" stroke-width="1"/>
<rect x="230.30" y="418.90" width="2.6" height="9.40" fill="#cc4555"/>
<line x1="235.50" y1="428.00" x2="235.50" y2="435.00" stroke="#c4878f" stroke-width="1"/>
<rect x="234.04" y="429.00" width="2.6" height="1.00" fill="#cc4555"/>
<line x1="239.50" y1="429.70" x2="239.50" y2="440.60" stroke="#c4878f" stroke-width="1"/>
<rect x="237.78" y="430.30" width="2.6" height="9.70" fill="#cc4555"/>
<line x1="242.50" y1="439.00" x2="242.50" y2="454.40" stroke="#c4878f" stroke-width="1"/>
<rect x="241.52" y="440.00" width="2.6" height="6.00" fill="#cc4555"/>
<line x1="246.50" y1="439.40" x2="246.50" y2="450.60" stroke="#c4878f" stroke-width="1"/>
<rect x="245.26" y="445.90" width="2.6" height="0.80" fill="#cc4555"/>
<line x1="250.50" y1="441.60" x2="250.50" y2="447.80" stroke="#6f9d91" stroke-width="1"/>
<rect x="249.00" y="442.20" width="2.6" height="5.00" fill="#1e8570"/>
<line x1="254.50" y1="439.40" x2="254.50" y2="442.80" stroke="#6f9d91" stroke-width="1"/>
<rect x="252.74" y="440.00" width="2.6" height="2.20" fill="#1e8570"/>
<line x1="257.50" y1="428.30" x2="257.50" y2="440.50" stroke="#6f9d91" stroke-width="1"/>
<rect x="256.48" y="431.70" width="2.6" height="8.30" fill="#1e8570"/>
<line x1="261.50" y1="427.80" x2="261.50" y2="434.40" stroke="#6f9d91" stroke-width="1"/>
<rect x="260.22" y="430.20" width="2.6" height="0.80" fill="#1e8570"/>
<line x1="265.50" y1="429.70" x2="265.50" y2="432.30" stroke="#c4878f" stroke-width="1"/>
<rect x="263.96" y="430.30" width="2.6" height="1.40" fill="#cc4555"/>
<line x1="269.50" y1="428.30" x2="269.50" y2="433.90" stroke="#c4878f" stroke-width="1"/>
<rect x="267.70" y="430.70" width="2.6" height="0.80" fill="#cc4555"/>
<line x1="272.50" y1="428.90" x2="272.50" y2="432.00" stroke="#6f9d91" stroke-width="1"/>
<rect x="271.44" y="430.20" width="2.6" height="0.80" fill="#1e8570"/>
<line x1="276.50" y1="429.30" x2="276.50" y2="431.30" stroke="#6f9d91" stroke-width="1"/>
<rect x="275.18" y="429.90" width="2.6" height="0.80" fill="#1e8570"/>
<line x1="280.50" y1="430.00" x2="280.50" y2="438.90" stroke="#c4878f" stroke-width="1"/>
<rect x="278.92" y="430.60" width="2.6" height="7.70" fill="#cc4555"/>
<line x1="283.50" y1="432.20" x2="283.50" y2="439.60" stroke="#6f9d91" stroke-width="1"/>
<rect x="282.66" y="432.80" width="2.6" height="6.20" fill="#1e8570"/>
<line x1="287.50" y1="427.70" x2="287.50" y2="433.90" stroke="#6f9d91" stroke-width="1"/>
<rect x="286.40" y="428.30" width="2.6" height="5.00" fill="#1e8570"/>
<line x1="291.50" y1="415.00" x2="291.50" y2="427.30" stroke="#6f9d91" stroke-width="1"/>
<rect x="290.14" y="415.60" width="2.6" height="11.10" fill="#1e8570"/>
<line x1="295.50" y1="410.60" x2="295.50" y2="418.00" stroke="#c4878f" stroke-width="1"/>
<rect x="293.88" y="415.90" width="2.6" height="0.80" fill="#cc4555"/>
<line x1="298.50" y1="415.70" x2="298.50" y2="417.70" stroke="#c4878f" stroke-width="1"/>
<rect x="297.62" y="416.30" width="2.6" height="0.80" fill="#cc4555"/>
<line x1="302.50" y1="416.20" x2="302.50" y2="418.20" stroke="#6f9d91" stroke-width="1"/>
<rect x="301.36" y="416.80" width="2.6" height="0.80" fill="#1e8570"/>
<line x1="306.50" y1="413.30" x2="306.50" y2="417.30" stroke="#6f9d91" stroke-width="1"/>
<rect x="305.10" y="413.90" width="2.6" height="2.80" fill="#1e8570"/>
<line x1="310.50" y1="383.30" x2="310.50" y2="414.00" stroke="#6f9d91" stroke-width="1"/>
<rect x="308.84" y="402.80" width="2.6" height="11.10" fill="#1e8570"/>
<line x1="313.50" y1="401.00" x2="313.50" y2="407.00" stroke="#c4878f" stroke-width="1"/>
<rect x="312.58" y="403.00" width="2.6" height="0.80" fill="#cc4555"/>
<line x1="317.50" y1="402.70" x2="317.50" y2="404.70" stroke="#c4878f" stroke-width="1"/>
<rect x="316.32" y="403.30" width="2.6" height="0.80" fill="#cc4555"/>
<line x1="321.50" y1="396.00" x2="321.50" y2="408.80" stroke="#c4878f" stroke-width="1"/>
<rect x="320.06" y="403.90" width="2.6" height="4.40" fill="#cc4555"/>
<line x1="325.50" y1="406.00" x2="325.50" y2="408.00" stroke="#6f9d91" stroke-width="1"/>
<rect x="323.80" y="406.60" width="2.6" height="0.80" fill="#1e8570"/>
<line x1="328.50" y1="404.20" x2="328.50" y2="406.20" stroke="#6f9d91" stroke-width="1"/>
<rect x="327.54" y="404.80" width="2.6" height="0.80" fill="#1e8570"/>
<line x1="332.50" y1="404.60" x2="332.50" y2="415.60" stroke="#c4878f" stroke-width="1"/>
<rect x="331.28" y="405.20" width="2.6" height="9.80" fill="#cc4555"/>
<line x1="336.50" y1="407.00" x2="336.50" y2="413.00" stroke="#6f9d91" stroke-width="1"/>
<rect x="335.02" y="410.00" width="2.6" height="2.20" fill="#1e8570"/>
<line x1="340.50" y1="409.60" x2="340.50" y2="411.60" stroke="#6f9d91" stroke-width="1"/>
<rect x="338.76" y="410.20" width="2.6" height="0.80" fill="#1e8570"/>
<line x1="343.50" y1="403.30" x2="343.50" y2="412.30" stroke="#6f9d91" stroke-width="1"/>
<rect x="342.50" y="403.90" width="2.6" height="7.80" fill="#1e8570"/>
<line x1="347.50" y1="396.60" x2="347.50" y2="403.90" stroke="#6f9d91" stroke-width="1"/>
<rect x="346.24" y="397.20" width="2.6" height="6.10" fill="#1e8570"/>
<line x1="351.50" y1="391.60" x2="351.50" y2="397.80" stroke="#6f9d91" stroke-width="1"/>
<rect x="349.98" y="392.20" width="2.6" height="5.00" fill="#1e8570"/>
<line x1="355.50" y1="387.80" x2="355.50" y2="394.00" stroke="#c4878f" stroke-width="1"/>
<rect x="353.72" y="392.90" width="2.6" height="0.80" fill="#cc4555"/>
<line x1="358.50" y1="382.20" x2="358.50" y2="394.50" stroke="#6f9d91" stroke-width="1"/>
<rect x="357.46" y="386.10" width="2.6" height="7.80" fill="#1e8570"/>
<line x1="362.50" y1="380.00" x2="362.50" y2="390.00" stroke="#c4878f" stroke-width="1"/>
<rect x="361.20" y="386.70" width="2.6" height="2.70" fill="#cc4555"/>
<line x1="366.50" y1="377.20" x2="366.50" y2="390.00" stroke="#6f9d91" stroke-width="1"/>
<rect x="364.94" y="377.80" width="2.6" height="11.60" fill="#1e8570"/>
<line x1="369.50" y1="376.60" x2="369.50" y2="391.20" stroke="#c4878f" stroke-width="1"/>
<rect x="368.68" y="377.20" width="2.6" height="13.40" fill="#cc4555"/>
<line x1="373.50" y1="384.40" x2="373.50" y2="406.00" stroke="#c4878f" stroke-width="1"/>
<rect x="372.42" y="390.60" width="2.6" height="15.00" fill="#cc4555"/>
<line x1="377.50" y1="402.90" x2="377.50" y2="405.00" stroke="#6f9d91" stroke-width="1"/>
<rect x="376.16" y="403.50" width="2.6" height="0.90" fill="#1e8570"/>
<line x1="381.50" y1="401.00" x2="381.50" y2="417.80" stroke="#c4878f" stroke-width="1"/>
<rect x="379.90" y="402.20" width="2.6" height="13.40" fill="#cc4555"/>
<line x1="384.50" y1="402.50" x2="384.50" y2="418.20" stroke="#6f9d91" stroke-width="1"/>
<rect x="383.64" y="414.30" width="2.6" height="0.80" fill="#1e8570"/>
<line x1="388.50" y1="414.60" x2="388.50" y2="416.60" stroke="#c4878f" stroke-width="1"/>
<rect x="387.38" y="415.20" width="2.6" height="0.80" fill="#cc4555"/>
<line x1="392.50" y1="393.00" x2="392.50" y2="416.00" stroke="#6f9d91" stroke-width="1"/>
<rect x="391.12" y="395.50" width="2.6" height="20.10" fill="#1e8570"/>
<line x1="396.50" y1="372.20" x2="396.50" y2="396.10" stroke="#6f9d91" stroke-width="1"/>
<rect x="394.86" y="372.80" width="2.6" height="22.70" fill="#1e8570"/>
<line x1="399.50" y1="362.60" x2="399.50" y2="373.40" stroke="#6f9d91" stroke-width="1"/>
<rect x="398.60" y="363.20" width="2.6" height="9.60" fill="#1e8570"/>
<line x1="403.50" y1="356.20" x2="403.50" y2="369.00" stroke="#c4878f" stroke-width="1"/>
<rect x="402.34" y="363.20" width="2.6" height="5.30" fill="#cc4555"/>
<line x1="407.50" y1="362.50" x2="407.50" y2="367.50" stroke="#6f9d91" stroke-width="1"/>
<rect x="406.08" y="366.30" width="2.6" height="0.80" fill="#1e8570"/>
<line x1="411.50" y1="366.00" x2="411.50" y2="372.80" stroke="#c4878f" stroke-width="1"/>
<rect x="409.82" y="366.70" width="2.6" height="3.50" fill="#cc4555"/>
<line x1="414.50" y1="362.60" x2="414.50" y2="369.90" stroke="#6f9d91" stroke-width="1"/>
<rect x="413.56" y="363.20" width="2.6" height="6.10" fill="#1e8570"/>
<line x1="418.50" y1="341.70" x2="418.50" y2="363.80" stroke="#6f9d91" stroke-width="1"/>
<rect x="417.30" y="342.30" width="2.6" height="20.90" fill="#1e8570"/>
<line x1="422.50" y1="341.50" x2="422.50" y2="352.80" stroke="#c4878f" stroke-width="1"/>
<rect x="421.04" y="342.30" width="2.6" height="5.20" fill="#cc4555"/>
<line x1="426.50" y1="346.20" x2="426.50" y2="348.20" stroke="#6f9d91" stroke-width="1"/>
<rect x="424.78" y="346.80" width="2.6" height="0.80" fill="#1e8570"/>
<line x1="429.50" y1="346.20" x2="429.50" y2="348.20" stroke="#c4878f" stroke-width="1"/>
<rect x="428.52" y="346.80" width="2.6" height="0.80" fill="#cc4555"/>
<line x1="433.50" y1="343.40" x2="433.50" y2="348.60" stroke="#6f9d91" stroke-width="1"/>
<rect x="432.26" y="344.00" width="2.6" height="4.00" fill="#1e8570"/>
<line x1="437.50" y1="325.10" x2="437.50" y2="344.60" stroke="#6f9d91" stroke-width="1"/>
<rect x="436.00" y="325.70" width="2.6" height="18.30" fill="#1e8570"/>
<line x1="441.50" y1="316.10" x2="441.50" y2="349.00" stroke="#c4878f" stroke-width="1"/>
<rect x="439.74" y="326.60" width="2.6" height="21.80" fill="#cc4555"/>
<line x1="444.50" y1="337.90" x2="444.50" y2="359.70" stroke="#c4878f" stroke-width="1"/>
<rect x="443.48" y="348.50" width="2.6" height="1.00" fill="#cc4555"/>
<line x1="448.50" y1="340.50" x2="448.50" y2="350.50" stroke="#6f9d91" stroke-width="1"/>
<rect x="447.22" y="344.00" width="2.6" height="6.00" fill="#1e8570"/>
<line x1="452.50" y1="343.50" x2="452.50" y2="363.20" stroke="#c4878f" stroke-width="1"/>
<rect x="450.96" y="344.00" width="2.6" height="10.50" fill="#cc4555"/>
<line x1="456.50" y1="353.40" x2="456.50" y2="355.40" stroke="#c4878f" stroke-width="1"/>
<rect x="454.70" y="354.00" width="2.6" height="0.80" fill="#cc4555"/>
<line x1="459.50" y1="351.00" x2="459.50" y2="356.00" stroke="#c4878f" stroke-width="1"/>
<rect x="458.44" y="354.60" width="2.6" height="0.80" fill="#cc4555"/>
<line x1="463.50" y1="348.00" x2="463.50" y2="360.60" stroke="#6f9d91" stroke-width="1"/>
<rect x="462.18" y="349.30" width="2.6" height="5.20" fill="#1e8570"/>
<line x1="467.50" y1="349.40" x2="467.50" y2="353.40" stroke="#c4878f" stroke-width="1"/>
<rect x="465.92" y="350.00" width="2.6" height="2.80" fill="#cc4555"/>
<line x1="470.50" y1="353.00" x2="470.50" y2="360.30" stroke="#c4878f" stroke-width="1"/>
<rect x="469.66" y="353.60" width="2.6" height="6.10" fill="#cc4555"/>
<line x1="474.50" y1="359.00" x2="474.50" y2="371.00" stroke="#c4878f" stroke-width="1"/>
<rect x="473.40" y="359.70" width="2.6" height="7.00" fill="#cc4555"/>
<line x1="478.50" y1="360.00" x2="478.50" y2="366.50" stroke="#6f9d91" stroke-width="1"/>
<rect x="477.14" y="365.50" width="2.6" height="0.80" fill="#1e8570"/>
<line x1="482.50" y1="363.80" x2="482.50" y2="366.30" stroke="#6f9d91" stroke-width="1"/>
<rect x="480.88" y="364.40" width="2.6" height="1.30" fill="#1e8570"/>
<line x1="485.50" y1="363.20" x2="485.50" y2="365.20" stroke="#6f9d91" stroke-width="1"/>
<rect x="484.62" y="363.80" width="2.6" height="0.80" fill="#1e8570"/>
<line x1="489.50" y1="344.10" x2="489.50" y2="364.00" stroke="#6f9d91" stroke-width="1"/>
<rect x="488.36" y="347.90" width="2.6" height="15.90" fill="#1e8570"/>
<line x1="493.50" y1="328.20" x2="493.50" y2="348.00" stroke="#6f9d91" stroke-width="1"/>
<rect x="492.10" y="336.50" width="2.6" height="11.40" fill="#1e8570"/>
<line x1="497.50" y1="335.90" x2="497.50" y2="342.20" stroke="#c4878f" stroke-width="1"/>
<rect x="495.84" y="336.50" width="2.6" height="5.10" fill="#cc4555"/>
<line x1="500.50" y1="335.20" x2="500.50" y2="364.40" stroke="#c4878f" stroke-width="1"/>
<rect x="499.58" y="341.00" width="2.6" height="11.40" fill="#cc4555"/>
<line x1="504.50" y1="348.00" x2="504.50" y2="358.00" stroke="#6f9d91" stroke-width="1"/>
<rect x="503.32" y="349.80" width="2.6" height="2.60" fill="#1e8570"/>
<line x1="508.50" y1="349.20" x2="508.50" y2="352.30" stroke="#c4878f" stroke-width="1"/>
<rect x="507.06" y="349.80" width="2.6" height="1.90" fill="#cc4555"/>
<line x1="512.50" y1="351.10" x2="512.50" y2="358.60" stroke="#c4878f" stroke-width="1"/>
<rect x="510.80" y="351.70" width="2.6" height="6.30" fill="#cc4555"/>
<line x1="515.50" y1="357.00" x2="515.50" y2="371.40" stroke="#c4878f" stroke-width="1"/>
<rect x="514.54" y="357.40" width="2.6" height="10.20" fill="#cc4555"/>
<line x1="519.50" y1="363.20" x2="519.50" y2="367.60" stroke="#6f9d91" stroke-width="1"/>
<rect x="518.28" y="363.80" width="2.6" height="3.20" fill="#1e8570"/>
<line x1="523.50" y1="363.00" x2="523.50" y2="378.50" stroke="#c4878f" stroke-width="1"/>
<rect x="522.02" y="363.80" width="2.6" height="13.90" fill="#cc4555"/>
<line x1="527.50" y1="364.50" x2="527.50" y2="387.30" stroke="#6f9d91" stroke-width="1"/>
<rect x="525.76" y="367.00" width="2.6" height="9.50" fill="#1e8570"/>
<line x1="530.50" y1="366.00" x2="530.50" y2="382.20" stroke="#c4878f" stroke-width="1"/>
<rect x="529.50" y="367.00" width="2.6" height="4.40" fill="#cc4555"/>
<line x1="534.50" y1="370.40" x2="534.50" y2="372.40" stroke="#6f9d91" stroke-width="1"/>
<rect x="533.24" y="371.00" width="2.6" height="0.80" fill="#1e8570"/>
<line x1="538.50" y1="364.00" x2="538.50" y2="372.50" stroke="#6f9d91" stroke-width="1"/>
<rect x="536.98" y="367.00" width="2.6" height="3.80" fill="#1e8570"/>
<line x1="542.50" y1="367.00" x2="542.50" y2="369.50" stroke="#c4878f" stroke-width="1"/>
<rect x="540.72" y="367.60" width="2.6" height="1.30" fill="#cc4555"/>
<line x1="545.50" y1="355.60" x2="545.50" y2="368.80" stroke="#6f9d91" stroke-width="1"/>
<rect x="544.46" y="356.20" width="2.6" height="12.00" fill="#1e8570"/>
<line x1="549.50" y1="350.00" x2="549.50" y2="361.00" stroke="#6f9d91" stroke-width="1"/>
<rect x="548.20" y="352.40" width="2.6" height="4.40" fill="#1e8570"/>
<line x1="553.50" y1="347.30" x2="553.50" y2="356.50" stroke="#c4878f" stroke-width="1"/>
<rect x="551.94" y="352.40" width="2.6" height="2.50" fill="#cc4555"/>
<line x1="556.50" y1="344.80" x2="556.50" y2="354.90" stroke="#6f9d91" stroke-width="1"/>
<rect x="555.68" y="345.40" width="2.6" height="8.90" fill="#1e8570"/>
<line x1="560.50" y1="342.20" x2="560.50" y2="346.00" stroke="#6f9d91" stroke-width="1"/>
<rect x="559.42" y="344.30" width="2.6" height="0.80" fill="#1e8570"/>
<line x1="564.50" y1="344.80" x2="564.50" y2="347.90" stroke="#c4878f" stroke-width="1"/>
<rect x="563.16" y="345.40" width="2.6" height="1.90" fill="#cc4555"/>
<line x1="568.50" y1="345.60" x2="568.50" y2="347.60" stroke="#6f9d91" stroke-width="1"/>
<rect x="566.90" y="346.20" width="2.6" height="0.80" fill="#1e8570"/>
<line x1="571.50" y1="345.40" x2="571.50" y2="353.00" stroke="#c4878f" stroke-width="1"/>
<rect x="570.64" y="346.00" width="2.6" height="6.40" fill="#cc4555"/>
<line x1="575.50" y1="352.10" x2="575.50" y2="362.20" stroke="#c4878f" stroke-width="1"/>
<rect x="574.38" y="352.70" width="2.6" height="8.90" fill="#cc4555"/>
<line x1="579.50" y1="349.00" x2="579.50" y2="364.20" stroke="#6f9d91" stroke-width="1"/>
<rect x="578.12" y="352.10" width="2.6" height="10.20" fill="#1e8570"/>
<line x1="583.50" y1="351.50" x2="583.50" y2="357.80" stroke="#c4878f" stroke-width="1"/>
<rect x="581.86" y="352.10" width="2.6" height="5.10" fill="#cc4555"/>
<line x1="586.50" y1="356.20" x2="586.50" y2="358.20" stroke="#c4878f" stroke-width="1"/>
<rect x="585.60" y="356.80" width="2.6" height="0.80" fill="#cc4555"/>
<line x1="590.50" y1="352.10" x2="590.50" y2="357.80" stroke="#6f9d91" stroke-width="1"/>
<rect x="589.34" y="352.70" width="2.6" height="4.50" fill="#1e8570"/>
<line x1="594.50" y1="337.50" x2="594.50" y2="353.30" stroke="#6f9d91" stroke-width="1"/>
<rect x="593.08" y="338.10" width="2.6" height="14.60" fill="#1e8570"/>
<line x1="598.50" y1="337.50" x2="598.50" y2="344.50" stroke="#c4878f" stroke-width="1"/>
<rect x="596.82" y="338.10" width="2.6" height="5.80" fill="#cc4555"/>
<line x1="601.50" y1="338.80" x2="601.50" y2="345.10" stroke="#6f9d91" stroke-width="1"/>
<rect x="600.56" y="339.40" width="2.6" height="5.10" fill="#1e8570"/>
<line x1="605.50" y1="335.00" x2="605.50" y2="341.00" stroke="#c4878f" stroke-width="1"/>
<rect x="604.30" y="339.60" width="2.6" height="0.80" fill="#cc4555"/>
<line x1="609.50" y1="334.30" x2="609.50" y2="351.00" stroke="#c4878f" stroke-width="1"/>
<rect x="608.04" y="341.30" width="2.6" height="8.90" fill="#cc4555"/>
<line x1="613.50" y1="349.20" x2="613.50" y2="351.20" stroke="#c4878f" stroke-width="1"/>
<rect x="611.78" y="349.80" width="2.6" height="0.80" fill="#cc4555"/>
<line x1="616.50" y1="348.60" x2="616.50" y2="350.60" stroke="#6f9d91" stroke-width="1"/>
<rect x="615.52" y="349.20" width="2.6" height="0.80" fill="#1e8570"/>
<line x1="620.50" y1="345.80" x2="620.50" y2="352.70" stroke="#6f9d91" stroke-width="1"/>
<rect x="619.26" y="347.90" width="2.6" height="0.80" fill="#1e8570"/>
<line x1="624.50" y1="345.10" x2="624.50" y2="352.10" stroke="#c4878f" stroke-width="1"/>
<rect x="623.00" y="347.90" width="2.6" height="0.80" fill="#cc4555"/>
<line x1="628.50" y1="341.40" x2="628.50" y2="348.90" stroke="#6f9d91" stroke-width="1"/>
<rect x="626.74" y="342.00" width="2.6" height="6.30" fill="#1e8570"/>
<line x1="631.50" y1="333.10" x2="631.50" y2="345.10" stroke="#6f9d91" stroke-width="1"/>
<rect x="630.48" y="336.90" width="2.6" height="5.10" fill="#1e8570"/>
<line x1="635.50" y1="302.00" x2="635.50" y2="336.50" stroke="#6f9d91" stroke-width="1"/>
<rect x="634.22" y="326.70" width="2.6" height="9.50" fill="#1e8570"/>
<line x1="639.50" y1="320.00" x2="639.50" y2="327.00" stroke="#6f9d91" stroke-width="1"/>
<rect x="637.96" y="321.60" width="2.6" height="5.10" fill="#1e8570"/>
<line x1="643.50" y1="321.70" x2="643.50" y2="324.20" stroke="#c4878f" stroke-width="1"/>
<rect x="641.70" y="322.30" width="2.6" height="1.30" fill="#cc4555"/>
<line x1="646.50" y1="323.00" x2="646.50" y2="336.90" stroke="#c4878f" stroke-width="1"/>
<rect x="645.44" y="323.60" width="2.6" height="8.20" fill="#cc4555"/>
<line x1="650.50" y1="331.20" x2="650.50" y2="336.20" stroke="#c4878f" stroke-width="1"/>
<rect x="649.18" y="331.80" width="2.6" height="3.80" fill="#cc4555"/>
<line x1="654.50" y1="335.00" x2="654.50" y2="339.40" stroke="#c4878f" stroke-width="1"/>
<rect x="652.92" y="335.60" width="2.6" height="3.20" fill="#cc4555"/>
<line x1="657.50" y1="338.40" x2="657.50" y2="340.40" stroke="#c4878f" stroke-width="1"/>
<rect x="656.66" y="339.00" width="2.6" height="0.80" fill="#cc4555"/>
<line x1="661.50" y1="338.50" x2="661.50" y2="343.20" stroke="#6f9d91" stroke-width="1"/>
<rect x="660.40" y="339.00" width="2.6" height="0.80" fill="#1e8570"/>
<line x1="665.50" y1="337.30" x2="665.50" y2="339.30" stroke="#6f9d91" stroke-width="1"/>
<rect x="664.14" y="337.90" width="2.6" height="0.80" fill="#1e8570"/>
<line x1="669.50" y1="322.80" x2="669.50" y2="339.00" stroke="#6f9d91" stroke-width="1"/>
<rect x="667.88" y="337.90" width="2.6" height="0.80" fill="#1e8570"/>
<line x1="672.50" y1="332.20" x2="672.50" y2="343.50" stroke="#c4878f" stroke-width="1"/>
<rect x="671.62" y="337.80" width="2.6" height="5.50" fill="#cc4555"/>
<line x1="676.50" y1="343.00" x2="676.50" y2="351.70" stroke="#c4878f" stroke-width="1"/>
<rect x="675.36" y="343.30" width="2.6" height="5.60" fill="#cc4555"/>
<line x1="680.50" y1="346.00" x2="680.50" y2="350.50" stroke="#6f9d91" stroke-width="1"/>
<rect x="679.10" y="346.80" width="2.6" height="0.80" fill="#1e8570"/>
<line x1="684.50" y1="346.10" x2="684.50" y2="351.20" stroke="#c4878f" stroke-width="1"/>
<rect x="682.84" y="346.70" width="2.6" height="3.90" fill="#cc4555"/>
<line x1="687.50" y1="350.00" x2="687.50" y2="360.60" stroke="#c4878f" stroke-width="1"/>
<rect x="686.58" y="350.60" width="2.6" height="7.70" fill="#cc4555"/>
<line x1="691.50" y1="357.10" x2="691.50" y2="359.10" stroke="#c4878f" stroke-width="1"/>
<rect x="690.32" y="357.70" width="2.6" height="0.80" fill="#cc4555"/>
<line x1="695.50" y1="358.30" x2="695.50" y2="362.30" stroke="#c4878f" stroke-width="1"/>
<rect x="694.06" y="358.90" width="2.6" height="2.80" fill="#cc4555"/>
<line x1="699.50" y1="352.20" x2="699.50" y2="362.30" stroke="#6f9d91" stroke-width="1"/>
<rect x="697.80" y="352.80" width="2.6" height="8.90" fill="#1e8570"/>
<line x1="702.50" y1="345.00" x2="702.50" y2="353.00" stroke="#6f9d91" stroke-width="1"/>
<rect x="701.54" y="347.80" width="2.6" height="5.00" fill="#1e8570"/>
<line x1="706.50" y1="345.00" x2="706.50" y2="348.90" stroke="#6f9d91" stroke-width="1"/>
<rect x="705.28" y="346.60" width="2.6" height="0.80" fill="#1e8570"/>
<line x1="710.50" y1="345.00" x2="710.50" y2="352.20" stroke="#c4878f" stroke-width="1"/>
<rect x="709.02" y="347.20" width="2.6" height="3.40" fill="#cc4555"/>
<line x1="714.50" y1="348.40" x2="714.50" y2="350.40" stroke="#6f9d91" stroke-width="1"/>
<rect x="712.76" y="349.00" width="2.6" height="0.80" fill="#1e8570"/>
<line x1="717.50" y1="347.30" x2="717.50" y2="349.30" stroke="#6f9d91" stroke-width="1"/>
<rect x="716.50" y="347.90" width="2.6" height="0.80" fill="#1e8570"/>
<line x1="721.50" y1="348.00" x2="721.50" y2="352.80" stroke="#c4878f" stroke-width="1"/>
<rect x="720.24" y="348.30" width="2.6" height="2.30" fill="#cc4555"/>
<line x1="725.50" y1="347.20" x2="725.50" y2="355.00" stroke="#6f9d91" stroke-width="1"/>
<rect x="723.98" y="350.00" width="2.6" height="0.80" fill="#1e8570"/>
<line x1="729.50" y1="349.50" x2="729.50" y2="356.10" stroke="#c4878f" stroke-width="1"/>
<rect x="727.72" y="350.00" width="2.6" height="4.40" fill="#cc4555"/>
<line x1="732.50" y1="352.50" x2="732.50" y2="357.20" stroke="#6f9d91" stroke-width="1"/>
<rect x="731.46" y="352.80" width="2.6" height="2.20" fill="#1e8570"/>
<line x1="736.50" y1="351.80" x2="736.50" y2="353.80" stroke="#6f9d91" stroke-width="1"/>
<rect x="735.20" y="352.40" width="2.6" height="0.80" fill="#1e8570"/>
<line x1="740.50" y1="345.00" x2="740.50" y2="353.00" stroke="#6f9d91" stroke-width="1"/>
<rect x="738.94" y="347.80" width="2.6" height="5.00" fill="#1e8570"/>
<line x1="743.50" y1="346.20" x2="743.50" y2="348.20" stroke="#6f9d91" stroke-width="1"/>
<rect x="742.68" y="346.80" width="2.6" height="0.80" fill="#1e8570"/>
<line x1="747.50" y1="345.70" x2="747.50" y2="347.70" stroke="#6f9d91" stroke-width="1"/>
<rect x="746.42" y="346.30" width="2.6" height="0.80" fill="#1e8570"/>
<line x1="751.50" y1="343.90" x2="751.50" y2="347.50" stroke="#c4878f" stroke-width="1"/>
<rect x="750.16" y="346.30" width="2.6" height="0.80" fill="#cc4555"/>
<line x1="755.50" y1="344.40" x2="755.50" y2="350.60" stroke="#c4878f" stroke-width="1"/>
<rect x="753.90" y="347.20" width="2.6" height="2.20" fill="#cc4555"/>
<line x1="758.50" y1="342.80" x2="758.50" y2="350.00" stroke="#6f9d91" stroke-width="1"/>
<rect x="757.64" y="347.20" width="2.6" height="2.20" fill="#1e8570"/>
<line x1="762.50" y1="347.00" x2="762.50" y2="351.10" stroke="#c4878f" stroke-width="1"/>
<rect x="761.38" y="347.80" width="2.6" height="1.60" fill="#cc4555"/>
<line x1="766.50" y1="344.40" x2="766.50" y2="350.00" stroke="#6f9d91" stroke-width="1"/>
<rect x="765.12" y="347.90" width="2.6" height="0.80" fill="#1e8570"/>
<line x1="770.50" y1="345.70" x2="770.50" y2="347.70" stroke="#6f9d91" stroke-width="1"/>
<rect x="768.86" y="346.30" width="2.6" height="0.80" fill="#1e8570"/>
<line x1="773.50" y1="345.70" x2="773.50" y2="347.70" stroke="#6f9d91" stroke-width="1"/>
<rect x="772.60" y="346.30" width="2.6" height="0.80" fill="#1e8570"/>
<line x1="777.50" y1="338.50" x2="777.50" y2="347.80" stroke="#6f9d91" stroke-width="1"/>
<rect x="776.34" y="339.10" width="2.6" height="8.10" fill="#1e8570"/>
<line x1="781.50" y1="333.00" x2="781.50" y2="339.70" stroke="#6f9d91" stroke-width="1"/>
<rect x="780.08" y="333.60" width="2.6" height="5.50" fill="#1e8570"/>
<line x1="785.50" y1="332.20" x2="785.50" y2="339.50" stroke="#c4878f" stroke-width="1"/>
<rect x="783.82" y="333.60" width="2.6" height="5.50" fill="#cc4555"/>
<line x1="788.50" y1="338.50" x2="788.50" y2="343.40" stroke="#c4878f" stroke-width="1"/>
<rect x="787.56" y="339.10" width="2.6" height="3.70" fill="#cc4555"/>
<line x1="792.50" y1="342.00" x2="792.50" y2="349.50" stroke="#c4878f" stroke-width="1"/>
<rect x="791.30" y="342.80" width="2.6" height="5.50" fill="#cc4555"/>
<line x1="796.50" y1="346.20" x2="796.50" y2="348.20" stroke="#6f9d91" stroke-width="1"/>
<rect x="795.04" y="346.80" width="2.6" height="0.80" fill="#1e8570"/>
<line x1="800.50" y1="346.80" x2="800.50" y2="348.80" stroke="#6f9d91" stroke-width="1"/>
<rect x="798.78" y="347.40" width="2.6" height="0.80" fill="#1e8570"/>
<line x1="803.50" y1="347.70" x2="803.50" y2="353.90" stroke="#c4878f" stroke-width="1"/>
<rect x="802.52" y="348.30" width="2.6" height="5.00" fill="#cc4555"/>
<line x1="807.50" y1="349.40" x2="807.50" y2="353.40" stroke="#6f9d91" stroke-width="1"/>
<rect x="806.26" y="350.00" width="2.6" height="2.80" fill="#1e8570"/>
<line x1="811.50" y1="349.00" x2="811.50" y2="359.40" stroke="#c4878f" stroke-width="1"/>
<rect x="810.00" y="350.00" width="2.6" height="7.20" fill="#cc4555"/>
<line x1="815.50" y1="356.20" x2="815.50" y2="358.20" stroke="#c4878f" stroke-width="1"/>
<rect x="813.74" y="356.80" width="2.6" height="0.80" fill="#cc4555"/>
<line x1="818.50" y1="344.70" x2="818.50" y2="358.40" stroke="#6f9d91" stroke-width="1"/>
<rect x="817.48" y="345.30" width="2.6" height="12.50" fill="#1e8570"/>
<line x1="822.50" y1="344.00" x2="822.50" y2="346.00" stroke="#c4878f" stroke-width="1"/>
<rect x="821.22" y="344.60" width="2.6" height="0.80" fill="#cc4555"/>
<line x1="826.50" y1="344.00" x2="826.50" y2="347.80" stroke="#6f9d91" stroke-width="1"/>
<rect x="824.96" y="344.60" width="2.6" height="0.80" fill="#1e8570"/>
<line x1="830.50" y1="340.00" x2="830.50" y2="347.20" stroke="#6f9d91" stroke-width="1"/>
<rect x="828.70" y="341.70" width="2.6" height="2.20" fill="#1e8570"/>
<line x1="833.50" y1="339.40" x2="833.50" y2="344.40" stroke="#6f9d91" stroke-width="1"/>
<rect x="832.44" y="340.90" width="2.6" height="0.80" fill="#1e8570"/>
<line x1="837.50" y1="340.50" x2="837.50" y2="343.90" stroke="#c4878f" stroke-width="1"/>
<rect x="836.18" y="341.10" width="2.6" height="2.20" fill="#cc4555"/>
<line x1="841.50" y1="338.80" x2="841.50" y2="343.40" stroke="#6f9d91" stroke-width="1"/>
<rect x="839.92" y="339.40" width="2.6" height="3.40" fill="#1e8570"/>
<line x1="844.50" y1="338.80" x2="844.50" y2="340.80" stroke="#c4878f" stroke-width="1"/>
<rect x="843.66" y="339.40" width="2.6" height="0.80" fill="#cc4555"/>
<line x1="848.50" y1="338.90" x2="848.50" y2="342.00" stroke="#c4878f" stroke-width="1"/>
<rect x="847.40" y="339.80" width="2.6" height="0.80" fill="#cc4555"/>
<line x1="852.50" y1="339.60" x2="852.50" y2="341.60" stroke="#c4878f" stroke-width="1"/>
<rect x="851.14" y="340.20" width="2.6" height="0.80" fill="#cc4555"/>
<line x1="856.50" y1="341.10" x2="856.50" y2="348.90" stroke="#c4878f" stroke-width="1"/>
<rect x="854.88" y="341.70" width="2.6" height="6.60" fill="#cc4555"/>
<line x1="859.50" y1="347.60" x2="859.50" y2="349.60" stroke="#c4878f" stroke-width="1"/>
<rect x="858.62" y="348.20" width="2.6" height="0.80" fill="#cc4555"/>
<line x1="863.50" y1="346.40" x2="863.50" y2="349.90" stroke="#6f9d91" stroke-width="1"/>
<rect x="862.36" y="347.00" width="2.6" height="2.30" fill="#1e8570"/>
<line x1="867.50" y1="345.80" x2="867.50" y2="352.00" stroke="#c4878f" stroke-width="1"/>
<rect x="866.10" y="346.40" width="2.6" height="5.00" fill="#cc4555"/>
<line x1="871.50" y1="349.70" x2="871.50" y2="351.70" stroke="#6f9d91" stroke-width="1"/>
<rect x="869.84" y="350.30" width="2.6" height="0.80" fill="#1e8570"/>
<line x1="874.50" y1="350.90" x2="874.50" y2="352.90" stroke="#6f9d91" stroke-width="1"/>
<rect x="873.58" y="351.50" width="2.6" height="0.80" fill="#1e8570"/>
<line x1="878.50" y1="351.20" x2="878.50" y2="353.20" stroke="#c4878f" stroke-width="1"/>
<rect x="877.32" y="351.80" width="2.6" height="0.80" fill="#cc4555"/>
<line x1="882.50" y1="341.40" x2="882.50" y2="352.40" stroke="#6f9d91" stroke-width="1"/>
<rect x="881.06" y="351.00" width="2.6" height="0.80" fill="#1e8570"/>
<line x1="886.50" y1="350.10" x2="886.50" y2="354.90" stroke="#c4878f" stroke-width="1"/>
<rect x="884.80" y="350.70" width="2.6" height="3.60" fill="#cc4555"/>
<line x1="889.50" y1="348.70" x2="889.50" y2="354.90" stroke="#6f9d91" stroke-width="1"/>
<rect x="888.54" y="349.30" width="2.6" height="5.00" fill="#1e8570"/>
<line x1="893.50" y1="348.00" x2="893.50" y2="350.60" stroke="#c4878f" stroke-width="1"/>
<rect x="892.28" y="348.60" width="2.6" height="1.40" fill="#cc4555"/>
<line x1="897.50" y1="344.50" x2="897.50" y2="352.90" stroke="#6f9d91" stroke-width="1"/>
<rect x="896.02" y="345.00" width="2.6" height="5.00" fill="#1e8570"/>
<line x1="901.50" y1="344.00" x2="901.50" y2="346.00" stroke="#c4878f" stroke-width="1"/>
<rect x="899.76" y="344.60" width="2.6" height="0.80" fill="#cc4555"/>
<line x1="904.50" y1="344.30" x2="904.50" y2="346.30" stroke="#6f9d91" stroke-width="1"/>
<rect x="903.50" y="344.90" width="2.6" height="0.80" fill="#1e8570"/>
<line x1="908.50" y1="345.10" x2="908.50" y2="349.20" stroke="#c4878f" stroke-width="1"/>
<rect x="907.24" y="345.70" width="2.6" height="2.90" fill="#cc4555"/>
<line x1="912.50" y1="341.50" x2="912.50" y2="349.20" stroke="#6f9d91" stroke-width="1"/>
<rect x="910.98" y="342.10" width="2.6" height="6.50" fill="#1e8570"/>
<line x1="916.50" y1="339.40" x2="916.50" y2="342.70" stroke="#6f9d91" stroke-width="1"/>
<rect x="914.72" y="340.00" width="2.6" height="2.10" fill="#1e8570"/>
<line x1="919.50" y1="334.40" x2="919.50" y2="341.30" stroke="#6f9d91" stroke-width="1"/>
<rect x="918.46" y="335.00" width="2.6" height="5.70" fill="#1e8570"/>
<line x1="923.50" y1="326.50" x2="923.50" y2="335.60" stroke="#6f9d91" stroke-width="1"/>
<rect x="922.20" y="327.10" width="2.6" height="7.90" fill="#1e8570"/>
<line x1="927.50" y1="325.70" x2="927.50" y2="327.70" stroke="#6f9d91" stroke-width="1"/>
<rect x="925.94" y="326.30" width="2.6" height="0.80" fill="#1e8570"/>
<line x1="930.50" y1="325.10" x2="930.50" y2="327.10" stroke="#c4878f" stroke-width="1"/>
<rect x="929.68" y="325.70" width="2.6" height="0.80" fill="#cc4555"/>
<line x1="934.50" y1="318.70" x2="934.50" y2="327.70" stroke="#6f9d91" stroke-width="1"/>
<rect x="933.42" y="319.30" width="2.6" height="7.80" fill="#1e8570"/>
<line x1="938.50" y1="310.80" x2="938.50" y2="320.60" stroke="#6f9d91" stroke-width="1"/>
<rect x="937.16" y="311.40" width="2.6" height="8.60" fill="#1e8570"/>
<line x1="942.50" y1="305.00" x2="942.50" y2="312.00" stroke="#6f9d91" stroke-width="1"/>
<rect x="940.90" y="307.10" width="2.6" height="4.30" fill="#1e8570"/>
<line x1="945.50" y1="306.50" x2="945.50" y2="313.60" stroke="#c4878f" stroke-width="1"/>
<rect x="944.64" y="307.10" width="2.6" height="2.20" fill="#cc4555"/>
<line x1="949.50" y1="303.00" x2="949.50" y2="309.90" stroke="#6f9d91" stroke-width="1"/>
<rect x="948.38" y="303.60" width="2.6" height="5.70" fill="#1e8570"/>
<line x1="953.50" y1="297.20" x2="953.50" y2="304.10" stroke="#6f9d91" stroke-width="1"/>
<rect x="952.12" y="297.80" width="2.6" height="5.70" fill="#1e8570"/>
<line x1="957.50" y1="297.90" x2="957.50" y2="302.90" stroke="#c4878f" stroke-width="1"/>
<rect x="955.86" y="298.50" width="2.6" height="3.80" fill="#cc4555"/>
<line x1="960.50" y1="294.70" x2="960.50" y2="303.50" stroke="#6f9d91" stroke-width="1"/>
<rect x="959.60" y="295.30" width="2.6" height="7.60" fill="#1e8570"/>
<line x1="964.50" y1="288.30" x2="964.50" y2="296.00" stroke="#6f9d91" stroke-width="1"/>
<rect x="963.34" y="294.90" width="2.6" height="0.80" fill="#1e8570"/>
<line x1="968.50" y1="291.50" x2="968.50" y2="297.00" stroke="#c4878f" stroke-width="1"/>
<rect x="967.08" y="294.90" width="2.6" height="0.80" fill="#cc4555"/>
<line x1="972.50" y1="295.00" x2="972.50" y2="299.50" stroke="#c4878f" stroke-width="1"/>
<rect x="970.82" y="295.30" width="2.6" height="2.50" fill="#cc4555"/>
<line x1="975.50" y1="294.70" x2="975.50" y2="297.20" stroke="#6f9d91" stroke-width="1"/>
<rect x="974.56" y="295.30" width="2.6" height="1.30" fill="#1e8570"/>
<line x1="979.50" y1="295.00" x2="979.50" y2="298.50" stroke="#6f9d91" stroke-width="1"/>
<rect x="978.30" y="295.50" width="2.6" height="0.80" fill="#1e8570"/>
<line x1="983.50" y1="289.00" x2="983.50" y2="296.00" stroke="#6f9d91" stroke-width="1"/>
<rect x="982.04" y="294.90" width="2.6" height="0.80" fill="#1e8570"/>
<line x1="987.50" y1="287.70" x2="987.50" y2="295.20" stroke="#6f9d91" stroke-width="1"/>
<rect x="985.78" y="288.30" width="2.6" height="6.30" fill="#1e8570"/>
<line x1="990.50" y1="283.00" x2="990.50" y2="288.00" stroke="#6f9d91" stroke-width="1"/>
<rect x="989.52" y="283.90" width="2.6" height="3.80" fill="#1e8570"/>
<line x1="994.50" y1="283.30" x2="994.50" y2="290.20" stroke="#c4878f" stroke-width="1"/>
<rect x="993.26" y="283.90" width="2.6" height="5.70" fill="#cc4555"/>
<line x1="998.50" y1="289.00" x2="998.50" y2="295.20" stroke="#c4878f" stroke-width="1"/>
<rect x="997.00" y="289.60" width="2.6" height="5.00" fill="#cc4555"/>
<line x1="1002.50" y1="286.40" x2="1002.50" y2="295.20" stroke="#6f9d91" stroke-width="1"/>
<rect x="1000.74" y="287.00" width="2.6" height="7.60" fill="#1e8570"/>
<line x1="1005.50" y1="286.00" x2="1005.50" y2="288.00" stroke="#6f9d91" stroke-width="1"/>
<rect x="1004.48" y="286.60" width="2.6" height="0.80" fill="#1e8570"/>
<line x1="1009.50" y1="285.80" x2="1009.50" y2="287.80" stroke="#6f9d91" stroke-width="1"/>
<rect x="1008.22" y="286.40" width="2.6" height="0.80" fill="#1e8570"/>
<line x1="1013.50" y1="275.00" x2="1013.50" y2="287.00" stroke="#6f9d91" stroke-width="1"/>
<rect x="1011.96" y="275.60" width="2.6" height="10.80" fill="#1e8570"/>
<line x1="1017.50" y1="268.60" x2="1017.50" y2="276.00" stroke="#6f9d91" stroke-width="1"/>
<rect x="1015.70" y="273.00" width="2.6" height="2.60" fill="#1e8570"/>
<line x1="1020.50" y1="272.00" x2="1020.50" y2="281.30" stroke="#c4878f" stroke-width="1"/>
<rect x="1019.44" y="273.00" width="2.6" height="3.20" fill="#cc4555"/>
<line x1="1024.50" y1="273.00" x2="1024.50" y2="279.40" stroke="#c4878f" stroke-width="1"/>
<rect x="1023.18" y="275.80" width="2.6" height="0.80" fill="#cc4555"/>
<line x1="1028.50" y1="268.60" x2="1028.50" y2="277.50" stroke="#6f9d91" stroke-width="1"/>
<rect x="1026.92" y="273.00" width="2.6" height="3.90" fill="#1e8570"/>
<line x1="1031.50" y1="271.40" x2="1031.50" y2="273.40" stroke="#6f9d91" stroke-width="1"/>
<rect x="1030.66" y="272.00" width="2.6" height="0.80" fill="#1e8570"/>
<line x1="1035.50" y1="271.40" x2="1035.50" y2="273.40" stroke="#6f9d91" stroke-width="1"/>
<rect x="1034.40" y="272.00" width="2.6" height="0.80" fill="#1e8570"/>
<line x1="1039.50" y1="260.40" x2="1039.50" y2="273.00" stroke="#6f9d91" stroke-width="1"/>
<rect x="1038.14" y="261.00" width="2.6" height="11.40" fill="#1e8570"/>
<line x1="1043.50" y1="256.00" x2="1043.50" y2="261.60" stroke="#6f9d91" stroke-width="1"/>
<rect x="1041.88" y="256.60" width="2.6" height="4.40" fill="#1e8570"/>
<line x1="1046.50" y1="252.10" x2="1046.50" y2="262.10" stroke="#c4878f" stroke-width="1"/>
<rect x="1045.62" y="256.30" width="2.6" height="0.80" fill="#cc4555"/>
<line x1="1050.50" y1="253.00" x2="1050.50" y2="264.00" stroke="#c4878f" stroke-width="1"/>
<rect x="1049.36" y="257.00" width="2.6" height="0.80" fill="#cc4555"/>
<line x1="1054.50" y1="254.20" x2="1054.50" y2="259.10" stroke="#6f9d91" stroke-width="1"/>
<rect x="1053.10" y="254.80" width="2.6" height="3.70" fill="#1e8570"/>
<line x1="1058.50" y1="251.50" x2="1058.50" y2="255.40" stroke="#6f9d91" stroke-width="1"/>
<rect x="1056.84" y="252.10" width="2.6" height="2.70" fill="#1e8570"/>
<line x1="1061.50" y1="249.70" x2="1061.50" y2="253.60" stroke="#6f9d91" stroke-width="1"/>
<rect x="1060.58" y="250.30" width="2.6" height="2.70" fill="#1e8570"/>
<line x1="1065.50" y1="238.70" x2="1065.50" y2="250.90" stroke="#6f9d91" stroke-width="1"/>
<rect x="1064.32" y="239.30" width="2.6" height="11.00" fill="#1e8570"/>
<line x1="1069.50" y1="236.00" x2="1069.50" y2="243.90" stroke="#6f9d91" stroke-width="1"/>
<rect x="1068.06" y="236.60" width="2.6" height="2.70" fill="#1e8570"/>
<line x1="1073.50" y1="223.80" x2="1073.50" y2="237.00" stroke="#6f9d91" stroke-width="1"/>
<rect x="1071.80" y="232.00" width="2.6" height="4.60" fill="#1e8570"/>
<line x1="1076.50" y1="225.60" x2="1076.50" y2="242.00" stroke="#c4878f" stroke-width="1"/>
<rect x="1075.54" y="232.00" width="2.6" height="4.60" fill="#cc4555"/>
<line x1="1080.50" y1="232.00" x2="1080.50" y2="302.30" stroke="#c4878f" stroke-width="1"/>
<rect x="1079.28" y="236.60" width="2.6" height="2.70" fill="#cc4555"/>
<line x1="1084.50" y1="238.00" x2="1084.50" y2="243.90" stroke="#6f9d91" stroke-width="1"/>
<rect x="1083.02" y="238.60" width="2.6" height="0.80" fill="#1e8570"/>
<line x1="1088.50" y1="228.40" x2="1088.50" y2="239.00" stroke="#6f9d91" stroke-width="1"/>
<rect x="1086.76" y="231.10" width="2.6" height="7.30" fill="#1e8570"/>
<line x1="1091.50" y1="214.10" x2="1091.50" y2="231.70" stroke="#6f9d91" stroke-width="1"/>
<rect x="1090.50" y="214.70" width="2.6" height="16.40" fill="#1e8570"/>
<line x1="1095.50" y1="208.00" x2="1095.50" y2="219.20" stroke="#6f9d91" stroke-width="1"/>
<rect x="1094.24" y="209.20" width="2.6" height="5.50" fill="#1e8570"/>
<line x1="1099.50" y1="200.40" x2="1099.50" y2="209.80" stroke="#6f9d91" stroke-width="1"/>
<rect x="1097.98" y="201.00" width="2.6" height="8.20" fill="#1e8570"/>
<line x1="1103.50" y1="123.00" x2="1103.50" y2="201.50" stroke="#6f9d91" stroke-width="1"/>
<rect x="1101.72" y="171.40" width="2.6" height="29.90" fill="#1e8570"/>
<line x1="1106.50" y1="163.30" x2="1106.50" y2="207.00" stroke="#c4878f" stroke-width="1"/>
<rect x="1105.46" y="171.40" width="2.6" height="28.80" fill="#cc4555"/>
<line x1="1110.50" y1="197.50" x2="1110.50" y2="202.50" stroke="#6f9d91" stroke-width="1"/>
<rect x="1109.20" y="199.70" width="2.6" height="0.80" fill="#1e8570"/>
<line x1="1114.50" y1="197.50" x2="1114.50" y2="202.50" stroke="#c4878f" stroke-width="1"/>
<rect x="1112.94" y="199.70" width="2.6" height="0.80" fill="#cc4555"/>
<line x1="1117.50" y1="176.00" x2="1117.50" y2="204.00" stroke="#6f9d91" stroke-width="1"/>
<rect x="1116.68" y="181.70" width="2.6" height="18.50" fill="#1e8570"/>
<line x1="1121.50" y1="181.10" x2="1121.50" y2="222.60" stroke="#c4878f" stroke-width="1"/>
<rect x="1120.42" y="181.70" width="2.6" height="40.30" fill="#cc4555"/>
<line x1="1125.50" y1="211.70" x2="1125.50" y2="233.50" stroke="#c4878f" stroke-width="1"/>
<rect x="1124.16" y="221.20" width="2.6" height="0.80" fill="#cc4555"/>
<line x1="1129.50" y1="212.80" x2="1129.50" y2="223.00" stroke="#6f9d91" stroke-width="1"/>
<rect x="1127.90" y="218.60" width="2.6" height="3.40" fill="#1e8570"/>
<line x1="1132.50" y1="215.00" x2="1132.50" y2="229.00" stroke="#c4878f" stroke-width="1"/>
<rect x="1131.64" y="218.60" width="2.6" height="0.80" fill="#cc4555"/>
<line x1="1136.50" y1="218.70" x2="1136.50" y2="220.70" stroke="#c4878f" stroke-width="1"/>
<rect x="1135.38" y="219.30" width="2.6" height="0.80" fill="#cc4555"/>
<line x1="1140.50" y1="219.10" x2="1140.50" y2="228.40" stroke="#c4878f" stroke-width="1"/>
<rect x="1139.12" y="219.70" width="2.6" height="8.10" fill="#cc4555"/>
<line x1="1144.50" y1="227.00" x2="1144.50" y2="243.00" stroke="#c4878f" stroke-width="1"/>
<rect x="1142.86" y="227.80" width="2.6" height="9.20" fill="#cc4555"/>
<line x1="1147.50" y1="236.00" x2="1147.50" y2="252.00" stroke="#c4878f" stroke-width="1"/>
<rect x="1146.60" y="237.00" width="2.6" height="4.60" fill="#cc4555"/>
<line x1="1151.50" y1="231.50" x2="1151.50" y2="242.00" stroke="#6f9d91" stroke-width="1"/>
<rect x="1150.34" y="233.50" width="2.6" height="8.10" fill="#1e8570"/>
<g font-family="Liberation Sans, Arial, sans-serif" font-size="7.2" fill="#30343c">
<text x="1161.5" y="98.80">5,000</text>
<text x="1161.5" y="124.31">4,800</text>
<text x="1161.5" y="150.91">4,600</text>
<text x="1161.5" y="178.70">4,400</text>
<text x="1161.5" y="207.77">4,200</text>
<text x="1161.5" y="270.32">3,800</text>
<text x="1161.5" y="304.12">3,600</text>
<text x="1161.5" y="321.72">3,500</text>
<text x="1161.5" y="343.53">3,380</text>
<text x="1161.5" y="366.12">3,260</text>
<text x="1161.5" y="389.56">3,140</text>
<text x="1161.5" y="413.91">3,020</text>
<text x="1161.5" y="434.96">2,920</text>
<text x="1161.5" y="456.74">2,820</text>
<text x="1161.5" y="474.72">2,740</text>
<text x="1161.5" y="493.24">2,660</text>
<text x="1161.5" y="512.33">2,580</text>
<text x="1161.5" y="530.77">2,505</text>
<text x="25.90" y="548.3" text-anchor="middle" font-weight="bold">2025</text>
<text x="74.52" y="548.3" text-anchor="middle">14</text>
<text x="141.84" y="548.3" text-anchor="middle">Feb</text>
<text x="190.46" y="548.3" text-anchor="middle">14</text>
<text x="246.56" y="548.3" text-anchor="middle">Mar</text>
<text x="295.18" y="548.3" text-anchor="middle">14</text>
<text x="362.50" y="548.3" text-anchor="middle">Apr</text>
<text x="411.12" y="548.3" text-anchor="middle">14</text>
<text x="474.70" y="548.3" text-anchor="middle">May</text>
<text x="523.32" y="548.3" text-anchor="middle">14</text>
<text x="590.64" y="548.3" text-anchor="middle">Jun</text>
<text x="639.26" y="548.3" text-anchor="middle">14</text>
<text x="702.84" y="548.3" text-anchor="middle">Jul</text>
<text x="751.46" y="548.3" text-anchor="middle">14</text>
<text x="818.78" y="548.3" text-anchor="middle">Aug</text>
<text x="867.40" y="548.3" text-anchor="middle">14</text>
<text x="934.72" y="548.3" text-anchor="middle">Sep</text>
<text x="983.34" y="548.3" text-anchor="middle">14</text>
<text x="1046.92" y="548.3" text-anchor="middle">Oct</text>
<text x="1095.54" y="548.3" text-anchor="middle">14</text>
</g>

<g font-family="Liberation Sans, Arial, sans-serif" font-size="7" fill="#2a2e39">
<text x="11" y="90.4" textLength="86.7" lengthAdjust="spacingAndGlyphs">PAXG / USDT, 1D, PAXGUSDT</text>
<text x="103.6" y="90.4" textLength="4.1" lengthAdjust="spacingAndGlyphs">O</text><text x="107.7" y="90.4" fill="#3fa592">3,968</text>
<text x="129.8" y="90.4" textLength="3.6" lengthAdjust="spacingAndGlyphs">H</text><text x="133.7" y="90.4" fill="#3fa592">4,031</text>
<text x="155.9" y="90.4" textLength="3" lengthAdjust="spacingAndGlyphs">L</text><text x="159.3" y="90.4" fill="#3fa592">3,950</text>
<text x="180.2" y="90.4" textLength="3.9" lengthAdjust="spacingAndGlyphs">C</text><text x="184.3" y="90.4" fill="#3fa592">4,014</text>
<text x="206.3" y="90.4" fill="#3fa592" textLength="39.4" lengthAdjust="spacingAndGlyphs">+46 (+1.15%)</text>
<text x="11" y="99.6" textLength="21.5" lengthAdjust="spacingAndGlyphs">Volume</text>
<text x="37.5" y="99.6" fill="#3fa592" textLength="22.5" lengthAdjust="spacingAndGlyphs">8.012 K</text>
</g>
</svg>
<div class="tag" style="left:1157px;top:230px;width:35px;height:17.5px;padding:0;"><div style="position:absolute;left:4px;top:1px;font-weight:bold">4,014</div><div style="position:absolute;left:4px;top:9px">09:05:45</div></div>
<div class="tag" style="left:1157px;top:514.3px;width:30px;height:9.2px;background:#22a38c;"><div style="position:absolute;left:4.5px;top:0.7px;font-weight:bold">8.012 K</div></div>
<svg class="logo" width="50" height="44" viewBox="64 552 50 44">
<polygon points="101.7,556.3 92,556.3 83.5,571 94.8,590.5 102.1,586.3 95.6,575 109.7,575 109.7,567 95.5,567" fill="#656ee9"/>
<polygon points="76.3,556.3 86,556.3 94.5,571 83.2,590.5 75.9,586.3 82.4,575 68.3,575 68.3,567 82.5,567" fill="#30cfc0"/>
</svg>
<svg class="brand" width="120" height="40" viewBox="110 555 120 40">
<g font-family="Poppins, 'Liberation Sans', sans-serif" font-weight="300" font-size="25.6" fill="#1c1c35">
<text x="116.9" y="580.8" textLength="69.6" lengthAdjust="spacingAndGlyphs">FARAZ</text>
<text x="187.6" y="580.8">.</text>
<text x="192.5" y="580.8" textLength="22.4" lengthAdjust="spacingAndGlyphs">IO</text>
</g></svg>
</body></html>
